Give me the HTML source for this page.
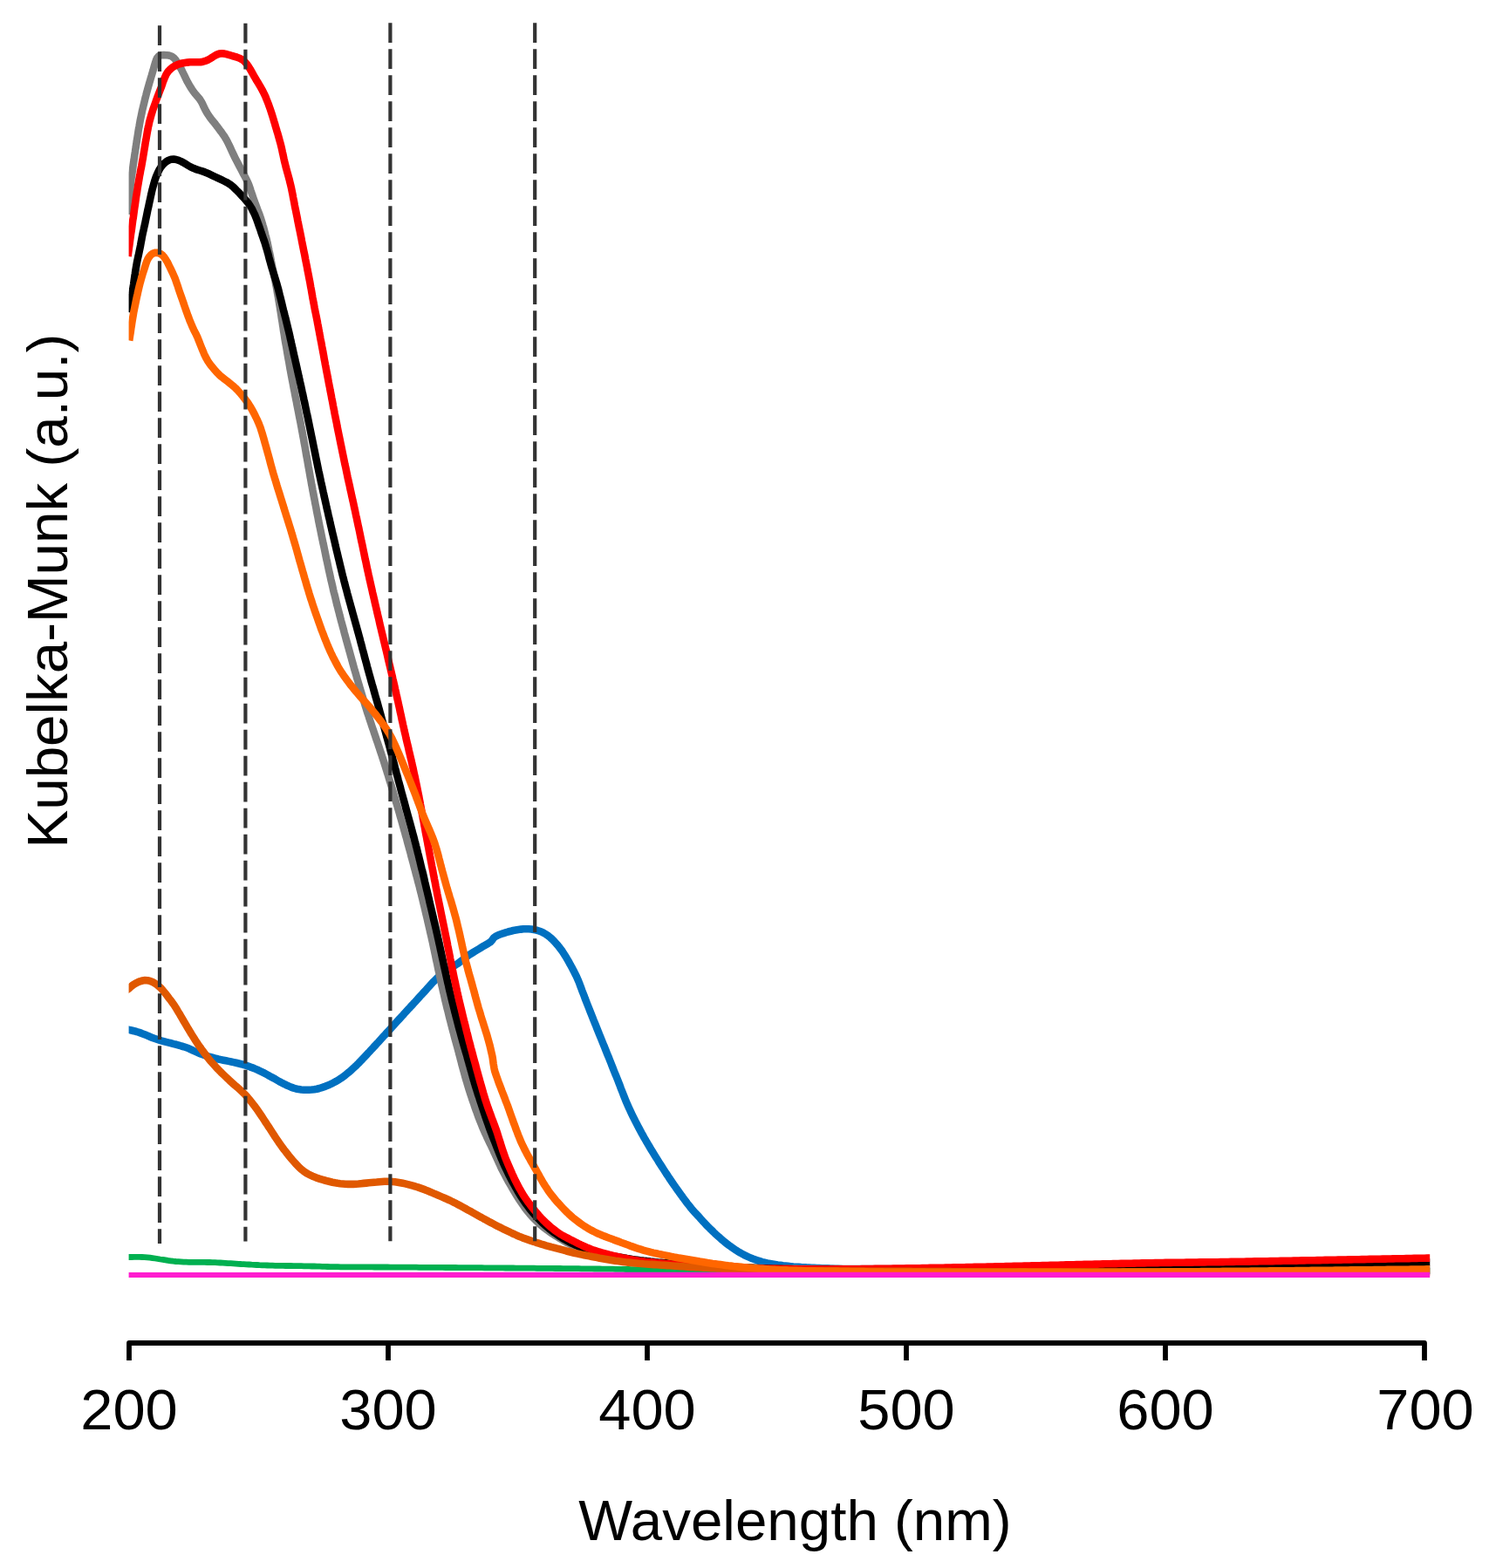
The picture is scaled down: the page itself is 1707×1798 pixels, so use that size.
<!DOCTYPE html>
<html><head><meta charset="utf-8"><title>Kubelka-Munk spectra</title>
<style>
html,body{margin:0;padding:0;background:#fff;}
body{width:1707px;height:1798px;overflow:hidden;position:relative;}
svg{position:absolute;left:0;top:0;}
.tk{font-family:"Liberation Sans",Arial,Helvetica,sans-serif;font-size:64.8px;fill:#000;}
.ax{font-family:"Liberation Sans",Arial,Helvetica,sans-serif;font-size:65.5px;fill:#000;}
</style></head>
<body>
<svg width="1707" height="1798" viewBox="0 0 1707 1798" xmlns="http://www.w3.org/2000/svg">
<rect width="1707" height="1798" fill="#fff"/>
<defs><clipPath id="pa"><rect x="147.6" y="0" width="1491.6" height="1500"/></clipPath></defs>
<g clip-path="url(#pa)">
<path d="M142.1,1179.3 L147.9,1180.8 L150.8,1181.5 L153.7,1182.2 L156.6,1183.0 L159.5,1183.9 L162.3,1184.9 L165.1,1186.0 L167.9,1187.1 L170.7,1188.3 L173.4,1189.4 L176.2,1190.5 L179.1,1191.5 L181.9,1192.4 L184.8,1193.3 L187.7,1194.1 L190.6,1194.9 L193.5,1195.6 L196.4,1196.3 L199.3,1197.1 L202.2,1197.8 L205.1,1198.6 L208.0,1199.5 L210.8,1200.3 L213.7,1201.3 L216.5,1202.3 L219.2,1203.6 L221.9,1204.9 L224.7,1206.1 L227.4,1207.3 L230.2,1208.5 L233.0,1209.5 L235.8,1210.5 L238.7,1211.4 L241.6,1212.2 L244.5,1213.0 L247.4,1213.8 L250.3,1214.5 L253.2,1215.1 L256.1,1215.7 L259.1,1216.3 L262.0,1216.9 L265.0,1217.5 L267.9,1218.1 L270.8,1218.8 L273.8,1219.5 L276.7,1220.2 L279.6,1221.0 L282.4,1221.9 L285.3,1222.8 L288.1,1223.9 L290.9,1224.9 L293.7,1226.1 L296.4,1227.3 L299.1,1228.6 L301.8,1229.9 L304.4,1231.3 L307.1,1232.7 L309.7,1234.2 L312.3,1235.6 L315.0,1237.1 L317.6,1238.6 L320.2,1240.1 L322.8,1241.5 L325.5,1242.9 L328.2,1244.2 L330.9,1245.4 L333.7,1246.6 L336.5,1247.6 L339.4,1248.5 L342.3,1249.1 L345.3,1249.5 L348.3,1249.7 L351.3,1249.8 L354.3,1249.7 L357.3,1249.5 L360.2,1249.2 L363.2,1248.7 L366.1,1248.0 L369.0,1247.1 L371.8,1246.2 L374.6,1245.1 L377.4,1244.0 L380.1,1242.7 L382.8,1241.3 L385.4,1239.9 L388.0,1238.3 L390.5,1236.7 L393.0,1234.9 L395.4,1233.2 L397.7,1231.3 L400.0,1229.4 L402.3,1227.4 L404.5,1225.4 L406.7,1223.4 L408.9,1221.3 L411.0,1219.2 L413.1,1217.0 L415.2,1214.9 L417.2,1212.7 L419.3,1210.5 L421.3,1208.3 L423.4,1206.1 L425.4,1203.9 L427.5,1201.7 L429.5,1199.5 L431.5,1197.3 L433.6,1195.1 L435.6,1192.9 L437.6,1190.7 L439.6,1188.4 L441.7,1186.2 L443.7,1184.0 L445.7,1181.8 L447.7,1179.6 L449.7,1177.4 L451.8,1175.1 L453.8,1172.9 L455.8,1170.7 L457.8,1168.5 L459.8,1166.3 L461.9,1164.1 L463.9,1161.8 L465.9,1159.6 L467.9,1157.4 L470.0,1155.2 L472.0,1153.0 L474.0,1150.8 L476.1,1148.6 L478.1,1146.4 L480.1,1144.1 L482.1,1141.9 L484.2,1139.7 L486.2,1137.5 L488.2,1135.3 L490.2,1133.0 L492.2,1130.8 L494.2,1128.6 L496.2,1126.4 L498.4,1124.3 L500.5,1122.2 L502.7,1120.1 L504.9,1118.1 L507.2,1116.1 L509.5,1114.2 L511.9,1112.4 L514.4,1110.8 L517.0,1109.4 L519.7,1108.0 L522.3,1106.5 L524.8,1104.9 L527.3,1103.1 L529.7,1101.3 L532.0,1099.4 L534.3,1097.5 L536.7,1095.7 L539.2,1094.1 L541.8,1092.5 L544.4,1090.9 L546.9,1089.4 L549.5,1087.8 L552.0,1086.3 L554.6,1084.7 L557.2,1083.2 L559.8,1081.7 L562.3,1080.1 L564.3,1077.9 L566.0,1075.4 L568.4,1073.6 L571.1,1072.3 L573.9,1071.3 L576.7,1070.3 L579.6,1069.4 L582.5,1068.5 L585.4,1067.8 L588.3,1067.0 L591.2,1066.5 L594.2,1066.0 L597.2,1065.6 L600.1,1065.3 L603.1,1065.2 L606.1,1065.3 L609.1,1065.5 L612.1,1066.0 L615.0,1066.6 L617.9,1067.5 L620.7,1068.5 L623.4,1069.9 L626.0,1071.4 L628.4,1073.1 L630.8,1075.0 L633.0,1077.0 L635.1,1079.1 L637.1,1081.3 L639.1,1083.6 L641.0,1085.9 L642.8,1088.3 L644.6,1090.7 L646.2,1093.2 L647.8,1095.8 L649.4,1098.3 L650.9,1100.9 L652.4,1103.5 L653.8,1106.2 L655.3,1108.8 L656.7,1111.5 L658.1,1114.1 L659.4,1116.8 L660.8,1119.5 L662.0,1122.2 L663.2,1125.0 L664.3,1127.8 L665.3,1130.6 L666.4,1133.4 L667.4,1136.2 L668.5,1139.0 L669.6,1141.8 L670.6,1144.6 L671.7,1147.4 L672.8,1150.2 L673.9,1153.0 L675.0,1155.8 L676.1,1158.6 L677.2,1161.4 L678.3,1164.1 L679.4,1166.9 L680.5,1169.7 L681.6,1172.5 L682.8,1175.3 L683.9,1178.1 L685.0,1180.9 L686.1,1183.6 L687.2,1186.4 L688.4,1189.2 L689.5,1192.0 L690.6,1194.8 L691.7,1197.5 L692.9,1200.3 L694.0,1203.1 L695.1,1205.9 L696.2,1208.7 L697.4,1211.4 L698.5,1214.2 L699.6,1217.0 L700.7,1219.8 L701.8,1222.6 L702.9,1225.4 L704.0,1228.2 L705.1,1231.0 L706.3,1233.7 L707.4,1236.5 L708.5,1239.3 L709.6,1242.1 L710.7,1244.9 L711.7,1247.7 L712.8,1250.5 L713.9,1253.3 L715.0,1256.1 L716.1,1258.9 L717.2,1261.7 L718.4,1264.4 L719.6,1267.2 L720.8,1269.9 L722.0,1272.6 L723.3,1275.4 L724.6,1278.1 L725.9,1280.8 L727.3,1283.5 L728.6,1286.1 L730.0,1288.8 L731.4,1291.5 L732.8,1294.1 L734.2,1296.8 L735.6,1299.4 L737.1,1302.0 L738.5,1304.6 L740.0,1307.2 L741.5,1309.8 L743.1,1312.4 L744.6,1315.0 L746.1,1317.6 L747.7,1320.1 L749.3,1322.7 L750.8,1325.2 L752.4,1327.8 L754.0,1330.3 L755.6,1332.9 L757.2,1335.4 L758.8,1337.9 L760.5,1340.5 L762.1,1343.0 L763.7,1345.5 L765.4,1348.0 L767.0,1350.5 L768.7,1353.0 L770.4,1355.5 L772.1,1357.9 L773.8,1360.4 L775.5,1362.9 L777.3,1365.3 L779.0,1367.7 L780.8,1370.2 L782.5,1372.6 L784.3,1375.0 L786.1,1377.4 L787.9,1379.8 L789.8,1382.2 L791.6,1384.5 L793.5,1386.9 L795.5,1389.1 L797.5,1391.3 L799.6,1393.5 L801.6,1395.7 L803.6,1398.0 L805.6,1400.2 L807.7,1402.4 L809.7,1404.6 L811.8,1406.7 L813.9,1408.8 L816.1,1410.9 L818.2,1413.0 L820.4,1415.1 L822.6,1417.1 L824.9,1419.1 L827.1,1421.1 L829.4,1423.0 L831.7,1424.9 L834.1,1426.8 L836.5,1428.6 L838.9,1430.3 L841.4,1432.0 L843.9,1433.7 L846.5,1435.3 L849.0,1436.8 L851.7,1438.2 L854.3,1439.6 L857.0,1440.9 L859.8,1442.1 L862.5,1443.3 L865.3,1444.3 L868.2,1445.3 L871.0,1446.2 L873.9,1447.1 L876.8,1447.8 L879.8,1448.4 L882.7,1448.9 L885.7,1449.4 L888.6,1449.9 L891.6,1450.4 L894.6,1450.8 L897.5,1451.3 L900.5,1451.6 L903.5,1451.9 L906.5,1452.2 L909.5,1452.5 L912.5,1452.7 L915.5,1452.9 L918.5,1453.1 L921.5,1453.2 L924.4,1453.4 L927.4,1453.5 L930.4,1453.7 L933.4,1453.8 L936.4,1454.0 L939.4,1454.1 L942.4,1454.2 L945.4,1454.3 L948.4,1454.4 L951.4,1454.6 L954.4,1454.7 L957.4,1455.0 L960.4,1455.1 L963.4,1455.2 L966.4,1455.2 L969.4,1455.3 L972.4,1455.3 L975.4,1455.3 L978.4,1455.4 L981.4,1455.4 L984.4,1455.4 L987.4,1455.4 L990.4,1455.4 L993.4,1455.5 L996.4,1455.5 L999.4,1455.5 L1002.4,1455.5 L1005.4,1455.5 L1008.4,1455.5 L1011.4,1455.6 L1014.4,1455.6 L1017.4,1455.6 L1020.4,1455.6 L1023.4,1455.6 L1026.4,1455.6 L1029.4,1455.6 L1032.4,1455.7 L1035.4,1455.7 L1038.4,1455.7 L1041.4,1455.7 L1044.4,1455.7 L1047.4,1455.7 L1050.4,1455.7 L1053.4,1455.7 L1056.4,1455.8 L1059.4,1455.8 L1062.4,1455.8 L1065.4,1455.8 L1068.4,1455.8 L1071.4,1455.8 L1074.4,1455.8 L1077.4,1455.8 L1080.4,1455.9 L1083.4,1455.9 L1086.4,1455.9 L1089.4,1455.9 L1092.4,1455.9 L1095.4,1455.9 L1098.4,1455.9 L1101.4,1455.9 L1104.4,1455.9 L1107.4,1455.9 L1110.4,1456.0 L1113.4,1456.0 L1116.4,1456.0 L1119.4,1456.0 L1122.4,1456.0 L1125.4,1456.0 L1128.4,1456.0 L1131.4,1456.0 L1134.4,1456.0 L1137.4,1456.0 L1140.4,1456.1 L1143.4,1456.1 L1146.4,1456.1 L1149.4,1456.1 L1152.4,1456.1 L1155.4,1456.1 L1158.4,1456.1 L1161.4,1456.1 L1164.4,1456.1 L1167.4,1456.1 L1170.4,1456.2 L1173.4,1456.2 L1176.4,1456.2 L1179.4,1456.2 L1182.4,1456.2 L1185.4,1456.2 L1188.4,1456.2 L1191.4,1456.2 L1194.4,1456.2 L1197.4,1456.2 L1200.4,1456.2 L1203.4,1456.2 L1206.4,1456.3 L1209.4,1456.3 L1212.4,1456.3 L1215.4,1456.3 L1218.4,1456.3 L1221.4,1456.3 L1224.4,1456.3 L1227.4,1456.3 L1230.4,1456.3 L1233.4,1456.3 L1236.4,1456.3 L1239.4,1456.3 L1242.4,1456.4 L1245.4,1456.4 L1248.4,1456.4 L1251.4,1456.4 L1254.4,1456.4 L1257.4,1456.4 L1260.4,1456.4 L1263.4,1456.4 L1266.4,1456.4 L1269.4,1456.4 L1272.4,1456.4 L1275.4,1456.4 L1278.4,1456.4 L1281.4,1456.5 L1284.4,1456.5 L1287.4,1456.5 L1290.4,1456.5 L1293.4,1456.5 L1296.4,1456.5 L1299.4,1456.5 L1302.4,1456.5 L1305.4,1456.5 L1308.4,1456.5 L1311.4,1456.5 L1314.4,1456.5 L1317.4,1456.5 L1320.4,1456.5 L1323.4,1456.6 L1326.4,1456.6 L1329.4,1456.6 L1332.4,1456.6 L1335.4,1456.6 L1338.4,1456.6 L1341.4,1456.6 L1344.4,1456.6 L1347.4,1456.6 L1350.4,1456.6 L1353.4,1456.6 L1356.4,1456.6 L1359.4,1456.6 L1362.4,1456.6 L1365.4,1456.6 L1368.4,1456.6 L1371.4,1456.6 L1374.4,1456.6 L1377.4,1456.7 L1380.4,1456.7 L1383.4,1456.7 L1386.4,1456.7 L1389.4,1456.7 L1392.4,1456.7 L1395.4,1456.7 L1398.4,1456.7 L1401.4,1456.7 L1404.4,1456.7 L1407.4,1456.7 L1410.4,1456.7 L1413.4,1456.7 L1416.4,1456.7 L1419.4,1456.7 L1422.4,1456.7 L1425.4,1456.7 L1428.4,1456.7 L1431.4,1456.7 L1434.4,1456.7 L1437.4,1456.7 L1440.4,1456.7 L1443.4,1456.8 L1446.4,1456.8 L1449.4,1456.8 L1452.4,1456.8 L1455.4,1456.8 L1458.4,1456.8 L1461.4,1456.8 L1464.4,1456.8 L1467.4,1456.8 L1470.4,1456.8 L1473.4,1456.8 L1476.4,1456.8 L1479.4,1456.8 L1482.4,1456.8 L1485.4,1456.8 L1488.4,1456.8 L1491.4,1456.8 L1494.4,1456.8 L1497.4,1456.8 L1500.4,1456.8 L1503.4,1456.8 L1506.4,1456.8 L1509.4,1456.8 L1512.4,1456.8 L1515.4,1456.8 L1518.4,1456.8 L1521.4,1456.8 L1524.4,1456.9 L1527.4,1456.9 L1530.4,1456.9 L1533.4,1456.9 L1536.4,1456.9 L1539.4,1456.9 L1542.4,1456.9 L1545.4,1456.9 L1548.4,1456.9 L1551.4,1456.9 L1554.4,1456.9 L1557.4,1456.9 L1560.4,1456.9 L1563.4,1456.9 L1566.4,1456.9 L1569.4,1456.9 L1572.4,1456.9 L1575.4,1456.9 L1578.4,1456.9 L1581.4,1456.9 L1584.4,1456.9 L1587.4,1456.9 L1590.4,1456.9 L1593.4,1456.9 L1596.4,1456.9 L1599.4,1456.9 L1602.4,1457.0 L1605.4,1457.0 L1608.4,1457.0 L1611.4,1457.0 L1614.4,1457.0 L1617.4,1457.0 L1620.4,1457.0 L1623.4,1457.0 L1626.4,1457.0 L1629.4,1457.0 L1632.4,1457.0 L1635.4,1457.0 L1638.0,1457.0 L1644.0,1457.0" fill="none" stroke="#0070c0" stroke-width="8.6" stroke-linejoin="round" stroke-linecap="butt"/>
<path d="M141.9,1441.5 L147.9,1441.5 L150.9,1441.5 L153.9,1441.4 L156.9,1441.4 L159.9,1441.4 L162.9,1441.5 L165.9,1441.6 L168.9,1441.9 L171.9,1442.2 L174.8,1442.6 L177.8,1443.0 L180.8,1443.5 L183.7,1444.0 L186.7,1444.4 L189.7,1444.9 L192.6,1445.4 L195.6,1445.8 L198.6,1446.2 L201.6,1446.5 L204.5,1446.7 L207.5,1446.9 L210.5,1447.1 L213.5,1447.2 L216.5,1447.3 L219.5,1447.3 L222.5,1447.3 L225.5,1447.4 L228.5,1447.4 L231.5,1447.4 L234.5,1447.4 L237.5,1447.5 L240.5,1447.5 L243.5,1447.6 L246.5,1447.7 L249.5,1447.8 L252.5,1448.0 L255.5,1448.2 L258.5,1448.4 L261.5,1448.6 L264.5,1448.7 L267.5,1448.9 L270.5,1449.1 L273.5,1449.3 L276.5,1449.5 L279.5,1449.6 L282.5,1449.8 L285.5,1450.0 L288.5,1450.2 L291.4,1450.3 L294.4,1450.5 L297.4,1450.7 L300.4,1450.8 L303.4,1450.9 L306.4,1451.0 L309.4,1451.1 L312.4,1451.2 L315.4,1451.3 L318.4,1451.3 L321.4,1451.4 L324.4,1451.4 L327.4,1451.5 L330.4,1451.5 L333.4,1451.5 L336.4,1451.6 L339.4,1451.6 L342.4,1451.7 L345.4,1451.7 L348.4,1451.8 L351.4,1451.8 L354.4,1451.9 L357.4,1452.0 L360.4,1452.0 L363.4,1452.1 L366.4,1452.2 L369.4,1452.3 L372.4,1452.4 L375.4,1452.5 L378.4,1452.6 L381.4,1452.6 L384.4,1452.7 L387.4,1452.7 L390.4,1452.8 L393.4,1452.8 L396.4,1452.8 L399.4,1452.8 L402.4,1452.8 L405.4,1452.9 L408.4,1452.9 L411.4,1452.9 L414.4,1452.9 L417.4,1452.9 L420.4,1452.9 L423.4,1452.9 L426.4,1452.9 L429.4,1453.0 L432.4,1453.0 L435.4,1453.0 L438.4,1453.0 L441.4,1453.0 L444.4,1453.0 L447.4,1453.1 L450.4,1453.1 L453.4,1453.1 L456.4,1453.1 L459.4,1453.1 L462.4,1453.2 L465.4,1453.2 L468.4,1453.2 L471.4,1453.2 L474.4,1453.2 L477.4,1453.2 L480.4,1453.3 L483.4,1453.3 L486.4,1453.3 L489.4,1453.3 L492.4,1453.3 L495.4,1453.4 L498.4,1453.4 L501.4,1453.4 L504.4,1453.4 L507.4,1453.4 L510.4,1453.5 L513.4,1453.5 L516.4,1453.5 L519.4,1453.5 L522.4,1453.5 L525.4,1453.6 L528.4,1453.6 L531.4,1453.6 L534.4,1453.6 L537.4,1453.6 L540.4,1453.7 L543.4,1453.7 L546.4,1453.7 L549.4,1453.7 L552.4,1453.7 L555.4,1453.8 L558.4,1453.8 L561.4,1453.8 L564.4,1453.8 L567.4,1453.9 L570.4,1453.9 L573.4,1453.9 L576.4,1453.9 L579.4,1454.0 L582.4,1454.0 L585.4,1454.0 L588.4,1454.0 L591.4,1454.1 L594.4,1454.1 L597.4,1454.1 L600.4,1454.1 L603.4,1454.2 L606.4,1454.2 L609.4,1454.2 L612.4,1454.2 L615.4,1454.3 L618.4,1454.3 L621.4,1454.3 L624.4,1454.4 L627.4,1454.4 L630.4,1454.4 L633.4,1454.4 L636.4,1454.5 L639.4,1454.5 L642.4,1454.5 L645.4,1454.6 L648.4,1454.6 L651.4,1454.6 L654.4,1454.6 L657.4,1454.7 L660.4,1454.7 L663.4,1454.7 L666.4,1454.8 L669.4,1454.8 L672.4,1454.9 L675.4,1454.9 L678.4,1454.9 L681.4,1455.0 L684.4,1455.0 L687.4,1455.0 L690.4,1455.1 L693.4,1455.1 L696.4,1455.2 L699.4,1455.2 L702.4,1455.2 L705.4,1455.3 L708.4,1455.3 L711.4,1455.4 L714.4,1455.4 L717.4,1455.5 L720.4,1455.5 L723.4,1455.6 L726.4,1455.6 L729.4,1455.6 L732.4,1455.7 L735.4,1455.7 L738.4,1455.7 L741.4,1455.8 L744.4,1455.8 L747.4,1455.8 L750.4,1455.9 L753.4,1455.9 L756.4,1455.9 L759.4,1455.9 L762.4,1455.9 L765.4,1456.0 L768.4,1456.0 L771.4,1456.0 L774.4,1456.0 L777.4,1456.0 L780.4,1456.1 L783.4,1456.1 L786.4,1456.1 L789.4,1456.1 L792.4,1456.1 L795.4,1456.2 L798.4,1456.2 L801.4,1456.2 L804.4,1456.2 L807.4,1456.2 L810.4,1456.3 L813.4,1456.3 L816.4,1456.3 L819.4,1456.3 L822.4,1456.3 L825.4,1456.4 L828.4,1456.4 L831.4,1456.4 L834.4,1456.4 L837.4,1456.4 L840.4,1456.5 L843.4,1456.5 L846.4,1456.5 L849.4,1456.5 L852.4,1456.5 L855.4,1456.5 L858.4,1456.6 L861.4,1456.6 L864.4,1456.6 L867.4,1456.6 L870.4,1456.6 L873.4,1456.6 L876.4,1456.6 L879.4,1456.7 L882.4,1456.7 L885.4,1456.7 L888.4,1456.7 L891.4,1456.7 L894.4,1456.7 L897.4,1456.7 L900.4,1456.7 L903.4,1456.8 L906.4,1456.8 L909.4,1456.8 L912.4,1456.8 L915.4,1456.8 L918.4,1456.8 L921.4,1456.8 L924.4,1456.8 L927.4,1456.8 L930.4,1456.8 L933.4,1456.9 L936.4,1456.9 L939.4,1456.9 L942.4,1456.9 L945.4,1456.9 L948.4,1456.9 L951.4,1456.9 L954.4,1456.9 L957.4,1456.9 L960.4,1456.9 L963.4,1456.9 L966.4,1456.9 L969.4,1456.9 L972.4,1456.9 L975.4,1457.0 L978.4,1457.0 L981.4,1457.0 L984.4,1457.0 L987.4,1457.0 L990.4,1457.0 L993.4,1457.0 L996.4,1457.0 L999.4,1457.0 L1002.4,1457.0 L1005.4,1457.0 L1008.4,1457.0 L1011.4,1457.0 L1014.4,1457.0 L1017.4,1457.0 L1020.4,1457.0 L1023.4,1457.0 L1026.4,1457.0 L1029.4,1457.0 L1032.4,1457.1 L1035.4,1457.1 L1038.4,1457.1 L1041.4,1457.1 L1044.4,1457.1 L1047.4,1457.1 L1050.4,1457.1 L1053.4,1457.1 L1056.4,1457.1 L1059.4,1457.1 L1062.4,1457.1 L1065.4,1457.1 L1068.4,1457.1 L1071.4,1457.1 L1074.4,1457.1 L1077.4,1457.1 L1080.4,1457.1 L1083.4,1457.1 L1086.4,1457.1 L1089.4,1457.1 L1092.4,1457.1 L1095.4,1457.1 L1098.4,1457.1 L1101.4,1457.1 L1104.4,1457.1 L1107.4,1457.1 L1110.4,1457.1 L1113.4,1457.1 L1116.4,1457.1 L1119.4,1457.1 L1122.4,1457.2 L1125.4,1457.2 L1128.4,1457.2 L1131.4,1457.2 L1134.4,1457.2 L1137.4,1457.2 L1140.4,1457.2 L1143.4,1457.2 L1146.4,1457.2 L1149.4,1457.2 L1152.4,1457.2 L1155.4,1457.2 L1158.4,1457.2 L1161.4,1457.2 L1164.4,1457.2 L1167.4,1457.2 L1170.4,1457.2 L1173.4,1457.2 L1176.4,1457.2 L1179.4,1457.2 L1182.4,1457.2 L1185.4,1457.2 L1188.4,1457.2 L1191.4,1457.2 L1194.4,1457.2 L1197.4,1457.2 L1200.4,1457.2 L1203.4,1457.2 L1206.4,1457.2 L1209.4,1457.2 L1212.4,1457.2 L1215.4,1457.2 L1218.4,1457.2 L1221.4,1457.2 L1224.4,1457.2 L1227.4,1457.2 L1230.4,1457.2 L1233.4,1457.2 L1236.4,1457.2 L1239.4,1457.2 L1242.4,1457.2 L1245.4,1457.2 L1248.4,1457.3 L1251.4,1457.3 L1254.4,1457.3 L1257.4,1457.3 L1260.4,1457.3 L1263.4,1457.3 L1266.4,1457.3 L1269.4,1457.3 L1272.4,1457.3 L1275.4,1457.3 L1278.4,1457.3 L1281.4,1457.3 L1284.4,1457.3 L1287.4,1457.3 L1290.4,1457.3 L1293.4,1457.3 L1296.4,1457.3 L1299.4,1457.3 L1302.4,1457.3 L1305.4,1457.3 L1308.4,1457.3 L1311.4,1457.3 L1314.4,1457.3 L1317.4,1457.3 L1320.4,1457.3 L1323.4,1457.3 L1326.4,1457.3 L1329.4,1457.3 L1332.4,1457.3 L1335.4,1457.3 L1338.4,1457.3 L1341.4,1457.3 L1344.4,1457.3 L1347.4,1457.3 L1350.4,1457.3 L1353.4,1457.3 L1356.4,1457.3 L1359.4,1457.3 L1362.4,1457.3 L1365.4,1457.3 L1368.4,1457.3 L1371.4,1457.3 L1374.4,1457.3 L1377.4,1457.3 L1380.4,1457.3 L1383.4,1457.3 L1386.4,1457.3 L1389.4,1457.3 L1392.4,1457.3 L1395.4,1457.3 L1398.4,1457.3 L1401.4,1457.3 L1404.4,1457.3 L1407.4,1457.4 L1410.4,1457.4 L1413.4,1457.4 L1416.4,1457.4 L1419.4,1457.4 L1422.4,1457.4 L1425.4,1457.4 L1428.4,1457.4 L1431.4,1457.4 L1434.4,1457.4 L1437.4,1457.4 L1440.4,1457.4 L1443.4,1457.4 L1446.4,1457.4 L1449.4,1457.4 L1452.4,1457.4 L1455.4,1457.4 L1458.4,1457.4 L1461.4,1457.4 L1464.4,1457.4 L1467.4,1457.4 L1470.4,1457.4 L1473.4,1457.4 L1476.4,1457.4 L1479.4,1457.4 L1482.4,1457.4 L1485.4,1457.4 L1488.4,1457.4 L1491.4,1457.4 L1494.4,1457.4 L1497.4,1457.4 L1500.4,1457.4 L1503.4,1457.4 L1506.4,1457.4 L1509.4,1457.4 L1512.4,1457.4 L1515.4,1457.4 L1518.4,1457.4 L1521.4,1457.4 L1524.4,1457.4 L1527.4,1457.4 L1530.4,1457.4 L1533.4,1457.4 L1536.4,1457.4 L1539.4,1457.4 L1542.4,1457.4 L1545.4,1457.4 L1548.4,1457.4 L1551.4,1457.4 L1554.4,1457.4 L1557.4,1457.4 L1560.4,1457.4 L1563.4,1457.4 L1566.4,1457.4 L1569.4,1457.5 L1572.4,1457.5 L1575.4,1457.5 L1578.4,1457.5 L1581.4,1457.5 L1584.4,1457.5 L1587.4,1457.5 L1590.4,1457.5 L1593.4,1457.5 L1596.4,1457.5 L1599.4,1457.5 L1602.4,1457.5 L1605.4,1457.5 L1608.4,1457.5 L1611.4,1457.5 L1614.4,1457.5 L1617.4,1457.5 L1620.4,1457.5 L1623.4,1457.5 L1626.4,1457.5 L1629.4,1457.5 L1632.4,1457.5 L1635.4,1457.5 L1638.0,1457.5 L1644.0,1457.5" fill="none" stroke="#00b050" stroke-width="6.8" stroke-linejoin="round" stroke-linecap="butt"/>
<path d="M147.4,246.0 L147.8,240.0 L148.0,237.0 L148.2,234.0 L148.3,231.0 L148.5,228.0 L148.7,225.0 L148.9,222.0 L149.1,219.0 L149.3,216.0 L149.6,213.1 L149.9,210.1 L150.2,207.1 L150.6,204.1 L151.0,201.2 L151.5,198.2 L151.9,195.2 L152.3,192.2 L152.7,189.3 L153.1,186.3 L153.6,183.3 L154.0,180.4 L154.4,177.4 L154.9,174.4 L155.3,171.5 L155.8,168.5 L156.2,165.5 L156.7,162.6 L157.1,159.6 L157.6,156.6 L158.1,153.7 L158.5,150.7 L159.0,147.7 L159.6,144.8 L160.1,141.8 L160.6,138.9 L161.2,135.9 L161.8,133.0 L162.4,130.1 L163.0,127.1 L163.7,124.2 L164.4,121.3 L165.1,118.4 L165.8,115.5 L166.5,112.5 L167.3,109.6 L168.0,106.7 L168.8,103.8 L169.6,100.9 L170.4,98.1 L171.2,95.2 L172.1,92.3 L172.9,89.4 L173.8,86.5 L174.6,83.7 L175.5,80.8 L176.3,77.9 L177.1,75.0 L178.0,72.1 L178.9,69.3 L180.1,66.5 L182.0,64.3 L184.8,63.3 L187.8,63.1 L190.8,63.2 L193.8,63.6 L196.7,64.5 L199.1,66.2 L201.1,68.4 L202.7,70.9 L204.3,73.5 L205.8,76.1 L207.4,78.6 L208.8,81.3 L210.1,84.0 L211.4,86.7 L212.7,89.4 L214.0,92.1 L215.4,94.7 L216.9,97.3 L218.4,99.9 L220.0,102.4 L221.7,104.9 L223.6,107.3 L225.5,109.6 L227.5,111.8 L229.3,114.2 L230.9,116.8 L232.3,119.4 L233.5,122.2 L234.8,124.9 L236.2,127.5 L237.7,130.1 L239.4,132.6 L241.1,135.1 L242.9,137.5 L244.8,139.8 L246.7,142.1 L248.5,144.5 L250.4,146.9 L252.1,149.3 L253.9,151.7 L255.6,154.2 L257.3,156.6 L258.9,159.2 L260.4,161.8 L261.7,164.5 L263.0,167.2 L264.3,169.9 L265.5,172.6 L266.8,175.3 L268.1,178.1 L269.4,180.8 L270.7,183.4 L272.1,186.1 L273.5,188.8 L274.9,191.4 L276.3,194.1 L277.7,196.7 L279.1,199.4 L280.5,202.0 L281.9,204.7 L283.2,207.4 L284.5,210.1 L285.6,212.9 L286.6,215.7 L287.5,218.6 L288.5,221.4 L289.4,224.3 L290.4,227.1 L291.4,229.9 L292.4,232.7 L293.5,235.6 L294.5,238.4 L295.6,241.2 L296.7,244.0 L297.7,246.8 L298.7,249.6 L299.6,252.5 L300.5,255.3 L301.3,258.2 L302.2,261.1 L302.9,264.0 L303.7,266.9 L304.4,269.8 L305.2,272.7 L305.9,275.6 L306.5,278.6 L307.2,281.5 L307.8,284.4 L308.4,287.4 L309.1,290.3 L309.7,293.2 L310.3,296.2 L310.8,299.1 L311.4,302.1 L312.0,305.0 L312.6,307.9 L313.2,310.9 L313.8,313.8 L314.4,316.8 L315.0,319.7 L315.6,322.6 L316.1,325.6 L316.7,328.5 L317.3,331.5 L317.8,334.4 L318.3,337.4 L318.9,340.3 L319.4,343.3 L319.9,346.3 L320.4,349.2 L320.9,352.2 L321.3,355.1 L321.8,358.1 L322.3,361.1 L322.7,364.0 L323.2,367.0 L323.7,370.0 L324.1,372.9 L324.6,375.9 L325.0,378.9 L325.5,381.8 L326.0,384.8 L326.4,387.7 L326.9,390.7 L327.4,393.7 L328.0,396.6 L328.5,399.6 L329.0,402.5 L329.5,405.5 L330.0,408.4 L330.5,411.4 L331.1,414.3 L331.6,417.3 L332.1,420.2 L332.6,423.2 L333.2,426.2 L333.7,429.1 L334.3,432.1 L334.8,435.0 L335.4,437.9 L336.0,440.9 L336.5,443.8 L337.1,446.8 L337.7,449.7 L338.2,452.7 L338.8,455.6 L339.4,458.6 L340.0,461.5 L340.5,464.5 L341.1,467.4 L341.7,470.3 L342.3,473.3 L342.8,476.2 L343.4,479.2 L344.0,482.1 L344.6,485.1 L345.1,488.0 L345.7,491.0 L346.2,493.9 L346.8,496.9 L347.3,499.8 L347.9,502.8 L348.4,505.7 L348.9,508.7 L349.5,511.6 L350.0,514.6 L350.5,517.5 L351.0,520.5 L351.5,523.4 L352.1,526.4 L352.6,529.3 L353.1,532.3 L353.6,535.3 L354.2,538.2 L354.7,541.2 L355.2,544.1 L355.7,547.1 L356.3,550.0 L356.8,553.0 L357.3,555.9 L357.9,558.9 L358.4,561.8 L359.0,564.8 L359.5,567.7 L360.1,570.7 L360.7,573.6 L361.2,576.6 L361.8,579.5 L362.4,582.4 L362.9,585.4 L363.5,588.3 L364.1,591.3 L364.7,594.2 L365.2,597.2 L365.8,600.1 L366.4,603.1 L367.0,606.0 L367.6,608.9 L368.2,611.9 L368.8,614.8 L369.4,617.8 L370.0,620.7 L370.6,623.6 L371.3,626.6 L371.9,629.5 L372.5,632.4 L373.1,635.4 L373.7,638.3 L374.3,641.2 L375.0,644.2 L375.6,647.1 L376.2,650.0 L376.8,653.0 L377.5,655.9 L378.1,658.8 L378.8,661.8 L379.4,664.7 L380.1,667.6 L380.8,670.5 L381.5,673.5 L382.1,676.4 L382.8,679.3 L383.6,682.2 L384.3,685.1 L385.0,688.0 L385.7,691.0 L386.4,693.9 L387.2,696.8 L387.9,699.7 L388.7,702.6 L389.4,705.5 L390.2,708.4 L390.9,711.3 L391.7,714.2 L392.5,717.1 L393.3,720.0 L394.1,722.9 L394.8,725.8 L395.6,728.7 L396.4,731.6 L397.2,734.5 L398.0,737.4 L398.8,740.2 L399.6,743.1 L400.4,746.0 L401.2,748.9 L402.0,751.8 L402.8,754.7 L403.6,757.6 L404.4,760.5 L405.2,763.4 L406.0,766.3 L406.8,769.1 L407.7,772.0 L408.5,774.9 L409.3,777.8 L410.2,780.7 L411.0,783.6 L411.9,786.4 L412.7,789.3 L413.6,792.2 L414.4,795.1 L415.3,797.9 L416.2,800.8 L417.0,803.7 L417.9,806.5 L418.8,809.4 L419.7,812.3 L420.6,815.1 L421.5,818.0 L422.5,820.8 L423.4,823.7 L424.3,826.5 L425.3,829.4 L426.2,832.2 L427.2,835.1 L428.2,837.9 L429.1,840.8 L430.1,843.6 L431.0,846.4 L432.0,849.3 L433.0,852.1 L433.9,855.0 L434.9,857.8 L435.8,860.6 L436.8,863.5 L437.7,866.3 L438.6,869.2 L439.6,872.1 L440.5,874.9 L441.4,877.8 L442.3,880.6 L443.2,883.5 L444.1,886.4 L445.0,889.2 L445.8,892.1 L446.7,895.0 L447.6,897.8 L448.5,900.7 L449.3,903.6 L450.2,906.4 L451.1,909.3 L451.9,912.2 L452.8,915.1 L453.6,918.0 L454.4,920.8 L455.3,923.7 L456.1,926.6 L457.0,929.5 L457.8,932.4 L458.6,935.2 L459.4,938.1 L460.3,941.0 L461.1,943.9 L461.9,946.8 L462.7,949.7 L463.5,952.6 L464.3,955.4 L465.1,958.3 L466.0,961.2 L466.7,964.1 L467.5,967.0 L468.3,969.9 L469.1,972.8 L469.9,975.7 L470.7,978.6 L471.4,981.5 L472.2,984.4 L473.0,987.3 L473.8,990.2 L474.5,993.1 L475.3,996.0 L476.1,998.9 L476.8,1001.8 L477.6,1004.7 L478.4,1007.6 L479.1,1010.5 L479.9,1013.4 L480.7,1016.3 L481.4,1019.2 L482.1,1022.1 L482.9,1025.0 L483.6,1027.9 L484.3,1030.8 L485.0,1033.8 L485.7,1036.7 L486.4,1039.6 L487.1,1042.5 L487.8,1045.4 L488.5,1048.4 L489.2,1051.3 L489.9,1054.2 L490.5,1057.1 L491.2,1060.0 L491.9,1063.0 L492.6,1065.9 L493.2,1068.8 L493.9,1071.7 L494.6,1074.7 L495.2,1077.6 L495.9,1080.5 L496.5,1083.4 L497.1,1086.4 L497.8,1089.3 L498.4,1092.3 L499.0,1095.2 L499.6,1098.1 L500.2,1101.1 L500.9,1104.0 L501.5,1106.9 L502.1,1109.9 L502.7,1112.8 L503.4,1115.7 L504.0,1118.7 L504.7,1121.6 L505.3,1124.5 L505.9,1127.4 L506.6,1130.4 L507.3,1133.3 L507.9,1136.2 L508.6,1139.1 L509.3,1142.1 L509.9,1145.0 L510.6,1147.9 L511.3,1150.8 L512.0,1153.8 L512.7,1156.7 L513.5,1159.6 L514.2,1162.5 L514.9,1165.4 L515.6,1168.3 L516.4,1171.2 L517.1,1174.1 L517.9,1177.0 L518.6,1179.9 L519.4,1182.8 L520.2,1185.7 L520.9,1188.6 L521.7,1191.5 L522.5,1194.4 L523.3,1197.3 L524.1,1200.2 L524.9,1203.1 L525.7,1206.0 L526.4,1208.9 L527.2,1211.8 L527.9,1214.7 L528.7,1217.6 L529.4,1220.5 L530.2,1223.4 L531.0,1226.3 L531.8,1229.2 L532.6,1232.1 L533.4,1235.0 L534.2,1237.9 L535.1,1240.7 L535.9,1243.6 L536.8,1246.5 L537.7,1249.4 L538.6,1252.2 L539.5,1255.1 L540.5,1257.9 L541.4,1260.8 L542.4,1263.6 L543.4,1266.4 L544.3,1269.3 L545.3,1272.1 L546.4,1274.9 L547.4,1277.7 L548.4,1280.6 L549.5,1283.4 L550.6,1286.2 L551.7,1288.9 L552.8,1291.7 L554.0,1294.5 L555.2,1297.2 L556.4,1300.0 L557.7,1302.7 L558.9,1305.4 L560.2,1308.1 L561.5,1310.8 L562.8,1313.5 L564.1,1316.3 L565.4,1319.0 L566.6,1321.7 L567.9,1324.4 L569.1,1327.1 L570.4,1329.9 L571.6,1332.6 L572.9,1335.3 L574.1,1338.1 L575.4,1340.8 L576.8,1343.4 L578.2,1346.1 L579.6,1348.8 L581.0,1351.4 L582.4,1354.0 L583.9,1356.6 L585.4,1359.2 L586.9,1361.8 L588.4,1364.4 L590.0,1367.0 L591.5,1369.6 L593.1,1372.1 L594.7,1374.7 L596.3,1377.2 L598.0,1379.7 L599.7,1382.1 L601.4,1384.6 L603.2,1387.0 L605.1,1389.3 L607.0,1391.6 L609.0,1393.9 L611.0,1396.1 L613.1,1398.2 L615.3,1400.4 L617.4,1402.4 L619.7,1404.4 L621.9,1406.4 L624.3,1408.2 L626.7,1410.1 L629.1,1411.8 L631.5,1413.6 L634.0,1415.2 L636.6,1416.9 L639.1,1418.4 L641.7,1420.0 L644.3,1421.5 L646.8,1423.1 L649.4,1424.6 L652.1,1426.0 L654.7,1427.3 L657.5,1428.6 L660.2,1429.8 L663.0,1430.9 L665.8,1432.0 L668.6,1433.0 L671.5,1433.9 L674.4,1434.8 L677.2,1435.6 L680.1,1436.4 L683.0,1437.2 L685.9,1437.9 L688.9,1438.6 L691.8,1439.3 L694.7,1439.9 L697.7,1440.5 L700.6,1441.1 L703.5,1441.7 L706.5,1442.2 L709.4,1442.8 L712.4,1443.3 L715.4,1443.8 L718.3,1444.2 L721.3,1444.7 L724.3,1445.2 L727.2,1445.6 L730.2,1446.0 L733.2,1446.4 L736.1,1446.8 L739.1,1447.2 L742.1,1447.6 L745.1,1448.0 L748.0,1448.3 L751.0,1448.6 L754.0,1448.9 L757.0,1449.2 L760.0,1449.5 L763.0,1449.7 L766.0,1450.0 L769.0,1450.2 L771.9,1450.4 L774.9,1450.6 L777.9,1450.8 L780.9,1451.0 L783.9,1451.2 L786.9,1451.4 L789.9,1451.5 L792.9,1451.7 L795.9,1451.8 L798.9,1451.9 L801.9,1452.1 L804.9,1452.2 L807.9,1452.3 L810.9,1452.4 L813.9,1452.5 L816.9,1452.6 L819.9,1452.7 L822.9,1452.8 L825.9,1452.9 L828.9,1453.0 L831.9,1453.0 L834.9,1453.1 L837.9,1453.2 L840.9,1453.3 L843.9,1453.3 L846.9,1453.4 L849.9,1453.5 L852.9,1453.6 L855.9,1453.7 L858.9,1453.7 L861.9,1453.8 L864.9,1453.9 L867.9,1454.0 L870.9,1454.0 L873.9,1454.1 L876.9,1454.2 L879.9,1454.2 L882.9,1454.3 L885.9,1454.3 L888.9,1454.4 L891.9,1454.4 L894.9,1454.4 L897.9,1454.5 L900.9,1454.5 L903.9,1454.5 L906.9,1454.6 L909.9,1454.6 L912.9,1454.6 L915.9,1454.7 L918.9,1454.7 L921.9,1454.7 L924.9,1454.7 L927.9,1454.8 L930.9,1454.8 L933.9,1454.8 L936.9,1454.8 L939.9,1454.8 L942.9,1454.9 L945.9,1454.9 L948.9,1454.9 L951.9,1454.9 L954.9,1454.9 L957.9,1454.9 L960.9,1454.9 L963.9,1454.9 L966.9,1455.0 L969.9,1455.0 L972.9,1455.0 L975.9,1455.0 L978.9,1455.0 L981.9,1455.0 L984.9,1455.0 L987.9,1455.0 L990.9,1455.0 L993.9,1455.0 L996.9,1455.0 L999.9,1455.0 L1002.9,1455.0 L1005.9,1455.0 L1008.9,1455.0 L1011.9,1455.0 L1014.9,1455.0 L1017.9,1455.0 L1020.9,1455.0 L1023.9,1455.0 L1026.9,1455.0 L1029.9,1455.0 L1032.9,1455.0 L1035.9,1455.0 L1038.9,1455.0 L1041.9,1455.0 L1044.9,1455.0 L1047.9,1455.0 L1050.9,1455.0 L1053.9,1455.0 L1056.9,1454.9 L1059.9,1454.9 L1062.9,1454.9 L1065.9,1454.9 L1068.9,1454.9 L1071.9,1454.9 L1074.9,1454.9 L1077.9,1454.9 L1080.9,1454.9 L1083.9,1454.9 L1086.9,1454.9 L1089.9,1454.9 L1092.9,1454.9 L1095.9,1454.9 L1098.9,1454.9 L1101.9,1454.9 L1104.9,1454.8 L1107.9,1454.8 L1110.9,1454.8 L1113.9,1454.8 L1116.9,1454.8 L1119.9,1454.8 L1122.9,1454.8 L1125.9,1454.8 L1128.9,1454.8 L1131.9,1454.8 L1134.9,1454.8 L1137.9,1454.8 L1140.9,1454.7 L1143.9,1454.7 L1146.9,1454.7 L1149.9,1454.7 L1152.9,1454.7 L1155.9,1454.7 L1158.9,1454.7 L1161.9,1454.7 L1164.9,1454.7 L1167.9,1454.6 L1170.9,1454.6 L1173.9,1454.6 L1176.9,1454.6 L1179.9,1454.6 L1182.9,1454.6 L1185.9,1454.6 L1188.9,1454.6 L1191.9,1454.5 L1194.9,1454.5 L1197.9,1454.5 L1200.9,1454.5 L1203.9,1454.5 L1206.9,1454.5 L1209.9,1454.4 L1212.9,1454.4 L1215.9,1454.4 L1218.9,1454.4 L1221.9,1454.4 L1224.9,1454.4 L1227.9,1454.3 L1230.9,1454.3 L1233.9,1454.3 L1236.9,1454.3 L1239.9,1454.3 L1242.9,1454.2 L1245.9,1454.2 L1248.9,1454.2 L1251.9,1454.2 L1254.9,1454.2 L1257.9,1454.1 L1260.9,1454.1 L1263.9,1454.1 L1266.9,1454.1 L1269.9,1454.1 L1272.9,1454.0 L1275.9,1454.0 L1278.9,1454.0 L1281.9,1454.0 L1284.9,1453.9 L1287.9,1453.9 L1290.9,1453.9 L1293.9,1453.9 L1296.9,1453.8 L1299.9,1453.8 L1302.9,1453.8 L1305.9,1453.8 L1308.9,1453.8 L1311.9,1453.7 L1314.9,1453.7 L1317.9,1453.7 L1320.9,1453.7 L1323.9,1453.6 L1326.9,1453.6 L1329.9,1453.6 L1332.9,1453.6 L1335.9,1453.5 L1338.9,1453.5 L1341.9,1453.5 L1344.9,1453.5 L1347.9,1453.4 L1350.9,1453.4 L1353.9,1453.4 L1356.9,1453.4 L1359.9,1453.3 L1362.9,1453.3 L1365.9,1453.3 L1368.9,1453.3 L1371.9,1453.2 L1374.9,1453.2 L1377.9,1453.2 L1380.9,1453.2 L1383.9,1453.1 L1386.9,1453.1 L1389.9,1453.1 L1392.9,1453.1 L1395.9,1453.0 L1398.9,1453.0 L1401.9,1453.0 L1404.9,1453.0 L1407.9,1452.9 L1410.9,1452.9 L1413.9,1452.9 L1416.9,1452.9 L1419.9,1452.8 L1422.9,1452.8 L1425.9,1452.8 L1428.9,1452.8 L1431.9,1452.7 L1434.9,1452.7 L1437.9,1452.7 L1440.9,1452.7 L1443.9,1452.6 L1446.9,1452.6 L1449.9,1452.6 L1452.9,1452.6 L1455.9,1452.5 L1458.9,1452.5 L1461.9,1452.5 L1464.9,1452.5 L1467.9,1452.4 L1470.9,1452.4 L1473.9,1452.4 L1476.9,1452.4 L1479.9,1452.3 L1482.9,1452.3 L1485.9,1452.3 L1488.9,1452.3 L1491.9,1452.2 L1494.9,1452.2 L1497.9,1452.2 L1500.9,1452.2 L1503.9,1452.1 L1506.9,1452.1 L1509.9,1452.1 L1512.9,1452.1 L1515.9,1452.0 L1518.9,1452.0 L1521.9,1452.0 L1524.9,1452.0 L1527.9,1451.9 L1530.9,1451.9 L1533.9,1451.9 L1536.9,1451.9 L1539.9,1451.8 L1542.9,1451.8 L1545.9,1451.8 L1548.9,1451.8 L1551.9,1451.7 L1554.9,1451.7 L1557.9,1451.7 L1560.9,1451.7 L1563.9,1451.6 L1566.9,1451.6 L1569.9,1451.6 L1572.9,1451.6 L1575.9,1451.5 L1578.9,1451.5 L1581.9,1451.5 L1584.9,1451.5 L1587.9,1451.4 L1590.9,1451.4 L1593.9,1451.4 L1596.9,1451.3 L1599.9,1451.3 L1602.9,1451.3 L1605.9,1451.3 L1608.9,1451.2 L1611.9,1451.2 L1614.9,1451.2 L1617.9,1451.2 L1620.9,1451.1 L1623.9,1451.1 L1626.9,1451.1 L1629.9,1451.1 L1632.9,1451.0 L1635.9,1451.0 L1638.0,1451.0 L1644.0,1450.9" fill="none" stroke="#7f7f7f" stroke-width="8.6" stroke-linejoin="round" stroke-linecap="butt"/>
<path d="M147.5,358.1 L148.6,352.2 L149.1,349.3 L149.6,346.3 L150.2,343.4 L150.7,340.4 L151.3,337.5 L151.8,334.5 L152.3,331.5 L152.7,328.6 L153.2,325.6 L153.6,322.6 L154.0,319.7 L154.4,316.7 L154.9,313.7 L155.3,310.8 L155.8,307.8 L156.3,304.8 L156.8,301.9 L157.4,298.9 L158.0,296.0 L158.7,293.1 L159.3,290.2 L159.9,287.2 L160.5,284.3 L161.1,281.3 L161.6,278.4 L162.2,275.4 L162.7,272.5 L163.3,269.5 L163.9,266.6 L164.6,263.7 L165.2,260.7 L165.9,257.8 L166.5,254.9 L167.1,251.9 L167.7,249.0 L168.3,246.1 L168.9,243.1 L169.5,240.2 L170.2,237.3 L170.8,234.3 L171.4,231.4 L172.1,228.5 L172.7,225.5 L173.4,222.6 L174.0,219.7 L174.7,216.8 L175.5,213.9 L176.3,211.0 L177.1,208.1 L178.0,205.2 L179.0,202.4 L180.2,199.6 L181.4,196.9 L182.8,194.2 L184.4,191.7 L186.2,189.3 L188.4,187.2 L190.7,185.3 L193.3,183.8 L196.1,182.8 L199.1,182.6 L202.0,183.0 L204.9,183.9 L207.7,185.1 L210.3,186.5 L212.9,188.0 L215.4,189.6 L218.0,191.1 L220.7,192.5 L223.5,193.6 L226.3,194.6 L229.2,195.5 L232.0,196.4 L234.9,197.4 L237.6,198.5 L240.4,199.7 L243.1,201.1 L245.8,202.4 L248.5,203.6 L251.2,204.9 L253.9,206.2 L256.6,207.5 L259.3,208.8 L261.9,210.3 L264.4,211.9 L266.8,213.8 L268.9,215.9 L271.0,218.0 L273.2,220.1 L275.3,222.3 L277.3,224.5 L279.3,226.7 L281.3,229.0 L283.2,231.3 L285.1,233.6 L286.8,236.1 L288.3,238.6 L289.7,241.3 L291.0,244.0 L292.3,246.7 L293.4,249.5 L294.5,252.3 L295.5,255.1 L296.5,258.0 L297.5,260.8 L298.5,263.6 L299.4,266.5 L300.4,269.3 L301.4,272.1 L302.4,275.0 L303.4,277.8 L304.3,280.7 L305.1,283.5 L306.0,286.4 L306.8,289.3 L307.6,292.2 L308.3,295.1 L309.1,298.0 L309.9,300.9 L310.7,303.8 L311.5,306.7 L312.4,309.5 L313.3,312.4 L314.2,315.3 L315.1,318.1 L316.0,321.0 L316.9,323.9 L317.7,326.7 L318.5,329.6 L319.3,332.5 L320.0,335.4 L320.7,338.3 L321.5,341.3 L322.2,344.2 L322.9,347.1 L323.6,350.0 L324.3,352.9 L325.0,355.8 L325.8,358.7 L326.5,361.6 L327.3,364.6 L328.0,367.5 L328.7,370.4 L329.4,373.3 L330.1,376.2 L330.8,379.1 L331.5,382.0 L332.2,385.0 L332.8,387.9 L333.5,390.8 L334.1,393.7 L334.8,396.7 L335.4,399.6 L336.1,402.5 L336.7,405.5 L337.4,408.4 L338.1,411.3 L338.7,414.2 L339.4,417.2 L340.0,420.1 L340.7,423.0 L341.3,426.0 L342.0,428.9 L342.6,431.8 L343.3,434.7 L343.9,437.7 L344.6,440.6 L345.2,443.5 L345.9,446.5 L346.5,449.4 L347.2,452.3 L347.8,455.3 L348.4,458.2 L349.1,461.1 L349.7,464.1 L350.3,467.0 L350.9,469.9 L351.5,472.9 L352.2,475.8 L352.8,478.7 L353.4,481.7 L354.0,484.6 L354.6,487.5 L355.2,490.5 L355.8,493.4 L356.4,496.4 L357.0,499.3 L357.6,502.2 L358.2,505.2 L358.8,508.1 L359.4,511.1 L360.0,514.0 L360.6,516.9 L361.2,519.9 L361.8,522.8 L362.4,525.8 L363.0,528.7 L363.6,531.6 L364.2,534.6 L364.8,537.5 L365.4,540.4 L366.1,543.4 L366.7,546.3 L367.3,549.2 L367.9,552.2 L368.6,555.1 L369.2,558.0 L369.9,561.0 L370.5,563.9 L371.2,566.8 L371.8,569.8 L372.5,572.7 L373.1,575.6 L373.8,578.5 L374.4,581.5 L375.1,584.4 L375.8,587.3 L376.4,590.2 L377.1,593.2 L377.8,596.1 L378.4,599.0 L379.1,601.9 L379.8,604.9 L380.4,607.8 L381.1,610.7 L381.8,613.6 L382.5,616.6 L383.2,619.5 L383.9,622.4 L384.5,625.3 L385.2,628.2 L385.9,631.2 L386.6,634.1 L387.3,637.0 L388.0,639.9 L388.7,642.8 L389.4,645.8 L390.1,648.7 L390.8,651.6 L391.5,654.5 L392.2,657.4 L392.9,660.3 L393.7,663.2 L394.4,666.1 L395.2,669.0 L395.9,671.9 L396.7,674.8 L397.5,677.7 L398.2,680.6 L399.0,683.5 L399.8,686.4 L400.6,689.3 L401.4,692.2 L402.2,695.1 L403.0,698.0 L403.8,700.9 L404.6,703.8 L405.4,706.7 L406.2,709.6 L407.0,712.4 L407.8,715.3 L408.6,718.2 L409.4,721.1 L410.2,724.0 L411.0,726.9 L411.8,729.8 L412.6,732.7 L413.3,735.6 L414.1,738.5 L414.9,741.4 L415.6,744.3 L416.4,747.2 L417.2,750.1 L417.9,753.0 L418.7,755.9 L419.5,758.8 L420.3,761.7 L421.0,764.6 L421.8,767.5 L422.6,770.4 L423.4,773.3 L424.2,776.2 L425.0,779.1 L425.8,782.0 L426.6,784.8 L427.5,787.7 L428.3,790.6 L429.1,793.5 L429.9,796.4 L430.7,799.3 L431.6,802.2 L432.4,805.0 L433.2,807.9 L434.0,810.8 L434.8,813.7 L435.6,816.6 L436.4,819.5 L437.2,822.4 L438.0,825.3 L438.8,828.2 L439.6,831.0 L440.4,833.9 L441.2,836.8 L442.0,839.7 L442.8,842.6 L443.6,845.5 L444.4,848.4 L445.2,851.3 L446.0,854.2 L446.8,857.1 L447.5,860.0 L448.3,862.9 L449.1,865.8 L449.9,868.7 L450.6,871.6 L451.4,874.5 L452.2,877.4 L452.9,880.3 L453.7,883.2 L454.4,886.1 L455.2,889.0 L456.0,891.9 L456.7,894.8 L457.5,897.7 L458.3,900.6 L459.1,903.5 L459.8,906.4 L460.6,909.3 L461.4,912.2 L462.2,915.1 L463.0,918.0 L463.8,920.9 L464.6,923.8 L465.3,926.7 L466.1,929.5 L466.9,932.4 L467.7,935.3 L468.5,938.2 L469.3,941.1 L470.1,944.0 L470.9,946.9 L471.7,949.8 L472.4,952.7 L473.2,955.6 L474.0,958.5 L474.8,961.4 L475.5,964.3 L476.3,967.2 L477.0,970.1 L477.8,973.0 L478.5,975.9 L479.2,978.8 L480.0,981.7 L480.7,984.7 L481.4,987.6 L482.1,990.5 L482.8,993.4 L483.5,996.3 L484.3,999.2 L485.0,1002.1 L485.7,1005.1 L486.4,1008.0 L487.0,1010.9 L487.7,1013.8 L488.4,1016.7 L489.1,1019.7 L489.8,1022.6 L490.5,1025.5 L491.2,1028.4 L491.9,1031.3 L492.5,1034.3 L493.2,1037.2 L493.9,1040.1 L494.6,1043.0 L495.3,1045.9 L496.0,1048.9 L496.6,1051.8 L497.3,1054.7 L498.0,1057.6 L498.7,1060.5 L499.4,1063.5 L500.1,1066.4 L500.7,1069.3 L501.4,1072.2 L502.0,1075.2 L502.7,1078.1 L503.3,1081.0 L504.0,1084.0 L504.6,1086.9 L505.2,1089.8 L505.9,1092.8 L506.5,1095.7 L507.1,1098.6 L507.8,1101.6 L508.4,1104.5 L509.0,1107.4 L509.7,1110.4 L510.3,1113.3 L511.0,1116.2 L511.6,1119.1 L512.3,1122.1 L512.9,1125.0 L513.6,1127.9 L514.3,1130.8 L514.9,1133.8 L515.6,1136.7 L516.3,1139.6 L517.0,1142.5 L517.7,1145.4 L518.4,1148.3 L519.2,1151.3 L519.9,1154.2 L520.6,1157.1 L521.3,1160.0 L522.1,1162.9 L522.8,1165.8 L523.6,1168.7 L524.3,1171.6 L525.1,1174.5 L525.8,1177.4 L526.6,1180.3 L527.4,1183.2 L528.2,1186.1 L529.0,1189.0 L529.8,1191.9 L530.6,1194.8 L531.4,1197.7 L532.2,1200.5 L533.1,1203.4 L533.9,1206.3 L534.8,1209.2 L535.6,1212.1 L536.4,1215.0 L537.2,1217.9 L538.0,1220.8 L538.8,1223.6 L539.6,1226.5 L540.4,1229.4 L541.2,1232.3 L542.0,1235.2 L542.8,1238.1 L543.7,1241.0 L544.5,1243.8 L545.4,1246.7 L546.3,1249.6 L547.2,1252.4 L548.1,1255.3 L549.1,1258.1 L550.0,1261.0 L550.9,1263.8 L551.9,1266.7 L552.8,1269.5 L553.8,1272.4 L554.7,1275.2 L555.7,1278.1 L556.6,1280.9 L557.6,1283.7 L558.6,1286.6 L559.6,1289.4 L560.6,1292.2 L561.6,1295.0 L562.7,1297.9 L563.8,1300.7 L564.8,1303.5 L565.9,1306.3 L567.0,1309.0 L568.1,1311.8 L569.2,1314.6 L570.3,1317.4 L571.4,1320.2 L572.5,1323.0 L573.7,1325.8 L574.8,1328.6 L576.0,1331.3 L577.2,1334.1 L578.4,1336.8 L579.7,1339.5 L581.0,1342.2 L582.3,1344.9 L583.6,1347.6 L585.0,1350.3 L586.4,1352.9 L587.8,1355.6 L589.3,1358.2 L590.7,1360.8 L592.2,1363.4 L593.7,1366.0 L595.2,1368.6 L596.8,1371.2 L598.4,1373.7 L600.0,1376.2 L601.7,1378.7 L603.5,1381.1 L605.3,1383.5 L607.1,1385.9 L609.0,1388.2 L610.9,1390.6 L612.9,1392.8 L614.9,1395.0 L617.0,1397.2 L619.1,1399.4 L621.2,1401.5 L623.4,1403.5 L625.6,1405.5 L627.9,1407.5 L630.2,1409.4 L632.5,1411.3 L634.9,1413.1 L637.4,1414.8 L639.8,1416.5 L642.3,1418.2 L644.9,1419.8 L647.4,1421.3 L650.1,1422.8 L652.7,1424.2 L655.4,1425.6 L658.1,1426.8 L660.8,1428.1 L663.6,1429.3 L666.4,1430.4 L669.2,1431.4 L672.0,1432.4 L674.9,1433.3 L677.7,1434.2 L680.6,1435.0 L683.5,1435.8 L686.4,1436.6 L689.3,1437.3 L692.2,1438.0 L695.2,1438.7 L698.1,1439.3 L701.0,1440.0 L704.0,1440.5 L706.9,1441.1 L709.9,1441.6 L712.8,1442.1 L715.8,1442.6 L718.8,1443.1 L721.7,1443.5 L724.7,1444.0 L727.7,1444.4 L730.6,1444.8 L733.6,1445.2 L736.6,1445.5 L739.6,1445.9 L742.6,1446.2 L745.5,1446.6 L748.5,1446.9 L751.5,1447.2 L754.5,1447.5 L757.5,1447.7 L760.5,1448.0 L763.5,1448.2 L766.4,1448.5 L769.4,1448.7 L772.4,1448.9 L775.4,1449.2 L778.4,1449.4 L781.4,1449.6 L784.4,1449.8 L787.4,1450.0 L790.4,1450.2 L793.4,1450.4 L796.4,1450.6 L799.4,1450.8 L802.4,1451.0 L805.4,1451.2 L808.3,1451.4 L811.3,1451.5 L814.3,1451.7 L817.3,1451.9 L820.3,1452.0 L823.3,1452.2 L826.3,1452.3 L829.3,1452.5 L832.3,1452.6 L835.3,1452.7 L838.3,1452.9 L841.3,1453.0 L844.3,1453.1 L847.3,1453.3 L850.3,1453.4 L853.3,1453.5 L856.3,1453.7 L859.3,1453.8 L862.3,1453.9 L865.3,1454.0 L868.3,1454.1 L871.3,1454.2 L874.3,1454.3 L877.3,1454.4 L880.3,1454.5 L883.3,1454.6 L886.3,1454.7 L889.3,1454.8 L892.3,1454.8 L895.3,1454.9 L898.3,1455.0 L901.3,1455.0 L904.3,1455.1 L907.3,1455.1 L910.3,1455.2 L913.3,1455.2 L916.3,1455.3 L919.3,1455.3 L922.3,1455.4 L925.3,1455.4 L928.3,1455.5 L931.3,1455.5 L934.3,1455.5 L937.3,1455.6 L940.3,1455.6 L943.3,1455.6 L946.3,1455.7 L949.3,1455.7 L952.3,1455.7 L955.3,1455.8 L958.3,1455.8 L961.3,1455.8 L964.3,1455.8 L967.3,1455.8 L970.3,1455.9 L973.3,1455.9 L976.3,1455.9 L979.3,1455.9 L982.3,1455.9 L985.3,1455.9 L988.3,1456.0 L991.3,1456.0 L994.3,1456.0 L997.3,1456.0 L1000.3,1456.0 L1003.3,1456.0 L1006.3,1456.0 L1009.3,1456.0 L1012.3,1456.0 L1015.3,1456.0 L1018.3,1456.0 L1021.3,1456.0 L1024.3,1456.0 L1027.3,1456.0 L1030.3,1456.0 L1033.3,1456.0 L1036.3,1456.0 L1039.3,1456.0 L1042.3,1456.0 L1045.3,1456.0 L1048.3,1456.0 L1051.3,1456.0 L1054.3,1455.9 L1057.3,1455.9 L1060.3,1455.9 L1063.3,1455.9 L1066.3,1455.9 L1069.3,1455.8 L1072.3,1455.8 L1075.3,1455.8 L1078.3,1455.7 L1081.3,1455.7 L1084.3,1455.7 L1087.3,1455.6 L1090.3,1455.6 L1093.3,1455.6 L1096.3,1455.5 L1099.3,1455.5 L1102.3,1455.5 L1105.3,1455.4 L1108.3,1455.4 L1111.3,1455.4 L1114.3,1455.3 L1117.3,1455.3 L1120.3,1455.2 L1123.3,1455.2 L1126.3,1455.2 L1129.3,1455.1 L1132.3,1455.1 L1135.3,1455.0 L1138.3,1455.0 L1141.3,1454.9 L1144.3,1454.9 L1147.3,1454.9 L1150.3,1454.8 L1153.3,1454.8 L1156.3,1454.7 L1159.3,1454.7 L1162.3,1454.6 L1165.3,1454.6 L1168.3,1454.5 L1171.3,1454.5 L1174.3,1454.4 L1177.3,1454.4 L1180.3,1454.4 L1183.3,1454.3 L1186.3,1454.3 L1189.3,1454.2 L1192.3,1454.2 L1195.3,1454.1 L1198.3,1454.1 L1201.3,1454.0 L1204.3,1454.0 L1207.3,1453.9 L1210.3,1453.9 L1213.3,1453.8 L1216.2,1453.8 L1219.2,1453.7 L1222.2,1453.7 L1225.2,1453.6 L1228.2,1453.6 L1231.2,1453.6 L1234.2,1453.5 L1237.2,1453.5 L1240.2,1453.4 L1243.2,1453.4 L1246.2,1453.3 L1249.2,1453.3 L1252.2,1453.2 L1255.2,1453.2 L1258.2,1453.1 L1261.2,1453.1 L1264.2,1453.0 L1267.2,1453.0 L1270.2,1452.9 L1273.2,1452.9 L1276.2,1452.9 L1279.2,1452.8 L1282.2,1452.8 L1285.2,1452.7 L1288.2,1452.7 L1291.2,1452.6 L1294.2,1452.6 L1297.2,1452.5 L1300.2,1452.5 L1303.2,1452.5 L1306.2,1452.4 L1309.2,1452.4 L1312.2,1452.3 L1315.2,1452.3 L1318.2,1452.2 L1321.2,1452.2 L1324.2,1452.2 L1327.2,1452.1 L1330.2,1452.1 L1333.2,1452.0 L1336.2,1452.0 L1339.2,1452.0 L1342.2,1451.9 L1345.2,1451.9 L1348.2,1451.8 L1351.2,1451.8 L1354.2,1451.8 L1357.2,1451.7 L1360.2,1451.7 L1363.2,1451.7 L1366.2,1451.6 L1369.2,1451.6 L1372.2,1451.5 L1375.2,1451.5 L1378.2,1451.5 L1381.2,1451.4 L1384.2,1451.4 L1387.2,1451.4 L1390.2,1451.3 L1393.2,1451.3 L1396.2,1451.2 L1399.2,1451.2 L1402.2,1451.2 L1405.2,1451.1 L1408.2,1451.1 L1411.2,1451.0 L1414.2,1451.0 L1417.2,1451.0 L1420.2,1450.9 L1423.2,1450.9 L1426.2,1450.8 L1429.2,1450.8 L1432.2,1450.8 L1435.2,1450.7 L1438.2,1450.7 L1441.2,1450.6 L1444.2,1450.6 L1447.2,1450.5 L1450.2,1450.5 L1453.2,1450.5 L1456.2,1450.4 L1459.2,1450.4 L1462.2,1450.3 L1465.2,1450.3 L1468.2,1450.2 L1471.2,1450.2 L1474.2,1450.1 L1477.2,1450.1 L1480.2,1450.0 L1483.2,1450.0 L1486.2,1449.9 L1489.2,1449.9 L1492.2,1449.9 L1495.2,1449.8 L1498.2,1449.8 L1501.2,1449.7 L1504.2,1449.7 L1507.2,1449.6 L1510.2,1449.6 L1513.2,1449.5 L1516.2,1449.5 L1519.2,1449.4 L1522.2,1449.4 L1525.2,1449.3 L1528.2,1449.3 L1531.2,1449.2 L1534.2,1449.2 L1537.2,1449.1 L1540.2,1449.1 L1543.2,1449.0 L1546.2,1449.0 L1549.2,1448.9 L1552.2,1448.9 L1555.2,1448.8 L1558.2,1448.8 L1561.2,1448.7 L1564.2,1448.7 L1567.2,1448.6 L1570.2,1448.6 L1573.2,1448.5 L1576.2,1448.5 L1579.2,1448.5 L1582.2,1448.4 L1585.2,1448.4 L1588.2,1448.3 L1591.2,1448.3 L1594.2,1448.2 L1597.2,1448.2 L1600.2,1448.1 L1603.2,1448.1 L1606.2,1448.0 L1609.2,1448.0 L1612.2,1447.9 L1615.2,1447.9 L1618.2,1447.8 L1621.2,1447.8 L1624.2,1447.7 L1627.2,1447.7 L1630.2,1447.6 L1633.2,1447.6 L1636.2,1447.5 L1638.0,1447.5 L1644.0,1447.4" fill="none" stroke="#000000" stroke-width="8.6" stroke-linejoin="round" stroke-linecap="butt"/>
<path d="M146.6,293.9 L147.4,288.0 L147.8,285.0 L148.2,282.1 L148.6,279.1 L149.0,276.1 L149.4,273.1 L149.8,270.2 L150.2,267.2 L150.7,264.2 L151.1,261.3 L151.5,258.3 L151.9,255.3 L152.3,252.3 L152.8,249.4 L153.2,246.4 L153.6,243.4 L154.0,240.5 L154.4,237.5 L154.9,234.5 L155.3,231.5 L155.7,228.6 L156.1,225.6 L156.6,222.6 L157.1,219.7 L157.5,216.7 L158.0,213.8 L158.5,210.8 L159.0,207.8 L159.5,204.9 L160.0,201.9 L160.6,199.0 L161.1,196.0 L161.7,193.1 L162.3,190.1 L162.8,187.2 L163.3,184.2 L163.9,181.3 L164.3,178.3 L164.8,175.4 L165.3,172.4 L165.8,169.4 L166.3,166.5 L166.7,163.5 L167.3,160.6 L167.8,157.6 L168.3,154.6 L168.8,151.7 L169.4,148.7 L169.9,145.8 L170.6,142.9 L171.2,139.9 L172.0,137.0 L172.8,134.1 L173.6,131.3 L174.5,128.4 L175.4,125.5 L176.4,122.7 L177.4,119.9 L178.4,117.1 L179.4,114.2 L180.5,111.4 L181.5,108.6 L182.6,105.8 L183.7,103.0 L184.8,100.2 L185.8,97.4 L186.7,94.5 L187.8,91.7 L188.9,88.9 L190.1,86.2 L191.6,83.6 L193.4,81.2 L195.5,79.1 L197.9,77.2 L200.4,75.6 L203.1,74.3 L205.9,73.3 L208.8,72.5 L211.8,72.0 L214.8,71.6 L217.7,71.3 L220.7,71.2 L223.7,71.2 L226.7,71.3 L229.7,71.3 L232.7,70.7 L235.6,69.9 L238.3,68.7 L241.0,67.3 L243.5,65.6 L246.0,64.0 L248.6,62.6 L251.4,61.6 L254.4,61.3 L257.4,61.6 L260.3,62.3 L263.2,63.1 L266.1,64.0 L269.0,64.8 L271.8,65.7 L274.6,66.7 L277.3,68.1 L279.7,69.9 L281.8,72.1 L283.6,74.4 L285.3,76.9 L286.9,79.5 L288.4,82.1 L289.8,84.7 L291.3,87.3 L292.8,89.9 L294.3,92.5 L295.9,95.1 L297.4,97.6 L298.9,100.2 L300.4,102.8 L301.8,105.5 L303.1,108.2 L304.4,110.9 L305.5,113.7 L306.6,116.5 L307.7,119.3 L308.7,122.1 L309.7,124.9 L310.7,127.8 L311.6,130.6 L312.5,133.5 L313.4,136.4 L314.2,139.2 L315.1,142.1 L315.9,145.0 L316.8,147.9 L317.6,150.7 L318.5,153.6 L319.3,156.5 L320.1,159.4 L320.9,162.3 L321.7,165.2 L322.4,168.1 L323.1,171.0 L323.7,173.9 L324.4,176.9 L325.0,179.8 L325.6,182.7 L326.3,185.7 L327.0,188.6 L327.7,191.5 L328.5,194.4 L329.3,197.3 L330.1,200.2 L330.9,203.1 L331.7,206.0 L332.4,208.9 L333.1,211.8 L333.8,214.7 L334.4,217.6 L335.0,220.6 L335.6,223.5 L336.1,226.5 L336.7,229.4 L337.3,232.4 L337.8,235.3 L338.4,238.3 L339.0,241.2 L339.6,244.1 L340.2,247.1 L340.8,250.0 L341.3,253.0 L341.9,255.9 L342.5,258.9 L343.1,261.8 L343.7,264.7 L344.3,267.7 L344.9,270.6 L345.5,273.6 L346.0,276.5 L346.6,279.4 L347.2,282.4 L347.8,285.3 L348.4,288.3 L349.0,291.2 L349.6,294.2 L350.1,297.1 L350.7,300.0 L351.3,303.0 L351.9,305.9 L352.4,308.9 L353.0,311.8 L353.6,314.8 L354.1,317.7 L354.7,320.7 L355.3,323.6 L355.8,326.6 L356.3,329.5 L356.9,332.5 L357.4,335.4 L357.9,338.4 L358.4,341.3 L359.0,344.3 L359.5,347.2 L360.1,350.2 L360.6,353.1 L361.2,356.1 L361.8,359.0 L362.4,361.9 L363.0,364.9 L363.6,367.8 L364.1,370.8 L364.7,373.7 L365.2,376.7 L365.8,379.6 L366.3,382.6 L366.9,385.5 L367.4,388.5 L368.0,391.4 L368.6,394.4 L369.1,397.3 L369.7,400.3 L370.2,403.2 L370.8,406.2 L371.3,409.1 L371.8,412.1 L372.4,415.0 L372.9,418.0 L373.5,420.9 L374.0,423.9 L374.6,426.8 L375.2,429.8 L375.7,432.7 L376.3,435.7 L376.8,438.6 L377.4,441.6 L378.0,444.5 L378.5,447.4 L379.1,450.4 L379.7,453.3 L380.2,456.3 L380.8,459.2 L381.4,462.2 L381.9,465.1 L382.5,468.1 L383.1,471.0 L383.6,474.0 L384.2,476.9 L384.8,479.8 L385.4,482.8 L386.0,485.7 L386.5,488.7 L387.1,491.6 L387.7,494.6 L388.3,497.5 L388.9,500.4 L389.5,503.4 L390.1,506.3 L390.7,509.3 L391.3,512.2 L391.9,515.1 L392.5,518.1 L393.1,521.0 L393.7,523.9 L394.3,526.9 L394.9,529.8 L395.5,532.8 L396.2,535.7 L396.8,538.6 L397.4,541.6 L398.0,544.5 L398.6,547.4 L399.3,550.4 L399.9,553.3 L400.6,556.2 L401.2,559.2 L401.8,562.1 L402.5,565.0 L403.1,568.0 L403.8,570.9 L404.4,573.8 L405.1,576.7 L405.7,579.7 L406.3,582.6 L407.0,585.5 L407.6,588.5 L408.2,591.4 L408.9,594.3 L409.5,597.3 L410.1,600.2 L410.7,603.1 L411.4,606.1 L412.0,609.0 L412.6,611.9 L413.2,614.9 L413.8,617.8 L414.4,620.8 L415.1,623.7 L415.7,626.6 L416.3,629.6 L416.9,632.5 L417.5,635.4 L418.1,638.4 L418.7,641.3 L419.4,644.2 L420.0,647.2 L420.6,650.1 L421.2,653.0 L421.9,656.0 L422.5,658.9 L423.2,661.8 L423.8,664.8 L424.5,667.7 L425.1,670.6 L425.8,673.5 L426.5,676.5 L427.1,679.4 L427.8,682.3 L428.5,685.2 L429.2,688.2 L429.8,691.1 L430.5,694.0 L431.2,696.9 L431.9,699.9 L432.5,702.8 L433.2,705.7 L433.9,708.6 L434.6,711.6 L435.2,714.5 L435.9,717.4 L436.6,720.3 L437.3,723.2 L438.0,726.2 L438.7,729.1 L439.4,732.0 L440.1,734.9 L440.8,737.8 L441.5,740.7 L442.2,743.7 L442.9,746.6 L443.6,749.5 L444.3,752.4 L444.9,755.3 L445.6,758.3 L446.3,761.2 L447.0,764.1 L447.7,767.0 L448.4,769.9 L449.1,772.9 L449.8,775.8 L450.4,778.7 L451.1,781.6 L451.8,784.5 L452.5,787.5 L453.1,790.4 L453.8,793.3 L454.4,796.2 L455.1,799.2 L455.7,802.1 L456.4,805.0 L457.0,808.0 L457.7,810.9 L458.3,813.8 L458.9,816.8 L459.6,819.7 L460.2,822.6 L460.8,825.6 L461.5,828.5 L462.1,831.4 L462.8,834.3 L463.4,837.3 L464.1,840.2 L464.8,843.1 L465.4,846.0 L466.1,849.0 L466.8,851.9 L467.5,854.8 L468.2,857.7 L468.8,860.7 L469.5,863.6 L470.2,866.5 L470.9,869.4 L471.6,872.3 L472.2,875.3 L472.9,878.2 L473.6,881.1 L474.2,884.0 L474.8,887.0 L475.5,889.9 L476.1,892.8 L476.7,895.8 L477.3,898.7 L477.9,901.7 L478.5,904.6 L479.1,907.5 L479.7,910.5 L480.3,913.4 L480.8,916.4 L481.4,919.3 L481.9,922.3 L482.5,925.2 L483.0,928.2 L483.6,931.1 L484.1,934.1 L484.7,937.0 L485.2,940.0 L485.8,942.9 L486.3,945.9 L486.9,948.8 L487.4,951.8 L487.9,954.7 L488.5,957.7 L489.1,960.6 L489.6,963.6 L490.2,966.5 L490.7,969.5 L491.3,972.4 L491.8,975.4 L492.4,978.3 L492.9,981.3 L493.5,984.2 L494.0,987.2 L494.6,990.1 L495.1,993.0 L495.7,996.0 L496.3,998.9 L496.8,1001.9 L497.4,1004.8 L497.9,1007.8 L498.5,1010.7 L499.1,1013.7 L499.6,1016.6 L500.2,1019.6 L500.8,1022.5 L501.3,1025.5 L501.9,1028.4 L502.5,1031.4 L503.1,1034.3 L503.7,1037.2 L504.3,1040.2 L504.9,1043.1 L505.5,1046.0 L506.1,1049.0 L506.7,1051.9 L507.3,1054.9 L507.9,1057.8 L508.5,1060.7 L509.1,1063.7 L509.7,1066.6 L510.3,1069.6 L510.9,1072.5 L511.5,1075.4 L512.1,1078.4 L512.7,1081.3 L513.2,1084.3 L513.8,1087.2 L514.4,1090.2 L515.0,1093.1 L515.6,1096.0 L516.1,1099.0 L516.7,1101.9 L517.3,1104.9 L517.9,1107.8 L518.5,1110.8 L519.1,1113.7 L519.7,1116.6 L520.3,1119.6 L520.9,1122.5 L521.6,1125.4 L522.2,1128.4 L522.8,1131.3 L523.5,1134.2 L524.1,1137.2 L524.8,1140.1 L525.4,1143.0 L526.1,1145.9 L526.8,1148.9 L527.5,1151.8 L528.2,1154.7 L528.9,1157.6 L529.6,1160.5 L530.3,1163.4 L531.0,1166.4 L531.7,1169.3 L532.4,1172.2 L533.2,1175.1 L533.9,1178.0 L534.6,1180.9 L535.3,1183.8 L536.1,1186.7 L536.8,1189.7 L537.5,1192.6 L538.3,1195.5 L539.1,1198.4 L539.8,1201.3 L540.6,1204.2 L541.4,1207.1 L542.1,1210.0 L542.9,1212.9 L543.7,1215.8 L544.5,1218.6 L545.3,1221.5 L546.0,1224.4 L546.8,1227.3 L547.6,1230.2 L548.4,1233.1 L549.2,1236.0 L550.0,1238.9 L550.8,1241.8 L551.7,1244.7 L552.5,1247.6 L553.3,1250.5 L554.1,1253.3 L555.0,1256.2 L555.8,1259.1 L556.7,1261.9 L557.7,1264.8 L558.6,1267.6 L559.6,1270.5 L560.6,1273.3 L561.6,1276.1 L562.7,1278.9 L563.7,1281.7 L564.8,1284.5 L565.9,1287.4 L566.9,1290.2 L567.9,1293.0 L568.9,1295.8 L569.9,1298.7 L570.8,1301.5 L571.7,1304.4 L572.6,1307.2 L573.5,1310.1 L574.4,1313.0 L575.3,1315.8 L576.2,1318.7 L577.2,1321.5 L578.2,1324.4 L579.2,1327.2 L580.3,1330.0 L581.4,1332.7 L582.6,1335.5 L583.8,1338.3 L585.0,1341.0 L586.2,1343.8 L587.4,1346.5 L588.7,1349.2 L589.9,1351.9 L591.2,1354.6 L592.6,1357.3 L594.0,1360.0 L595.4,1362.6 L596.9,1365.2 L598.4,1367.8 L600.0,1370.4 L601.6,1372.9 L603.3,1375.4 L605.0,1377.8 L606.8,1380.2 L608.6,1382.6 L610.4,1385.0 L612.3,1387.3 L614.2,1389.6 L616.2,1391.9 L618.2,1394.2 L620.2,1396.4 L622.3,1398.6 L624.4,1400.7 L626.6,1402.8 L628.8,1404.8 L631.0,1406.8 L633.4,1408.7 L635.7,1410.5 L638.1,1412.3 L640.6,1414.0 L643.1,1415.6 L645.7,1417.1 L648.4,1418.5 L651.0,1419.9 L653.7,1421.3 L656.4,1422.6 L659.1,1424.0 L661.7,1425.3 L664.4,1426.7 L667.1,1428.0 L669.8,1429.2 L672.6,1430.5 L675.4,1431.6 L678.2,1432.7 L681.0,1433.7 L683.8,1434.6 L686.7,1435.5 L689.6,1436.3 L692.5,1437.1 L695.4,1437.9 L698.3,1438.7 L701.2,1439.4 L704.1,1440.1 L707.0,1440.8 L710.0,1441.4 L712.9,1442.1 L715.8,1442.7 L718.8,1443.3 L721.7,1443.9 L724.7,1444.4 L727.6,1444.9 L730.6,1445.4 L733.5,1445.9 L736.5,1446.3 L739.5,1446.7 L742.5,1447.0 L745.4,1447.3 L748.4,1447.6 L751.4,1447.9 L754.4,1448.2 L757.4,1448.5 L760.4,1448.8 L763.4,1449.1 L766.3,1449.3 L769.3,1449.6 L772.3,1449.9 L775.3,1450.1 L778.3,1450.4 L781.3,1450.6 L784.3,1450.8 L787.3,1451.0 L790.3,1451.3 L793.3,1451.5 L796.3,1451.6 L799.3,1451.8 L802.2,1452.0 L805.2,1452.2 L808.2,1452.4 L811.2,1452.5 L814.2,1452.7 L817.2,1452.8 L820.2,1453.0 L823.2,1453.1 L826.2,1453.2 L829.2,1453.4 L832.2,1453.5 L835.2,1453.6 L838.2,1453.7 L841.2,1453.8 L844.2,1453.8 L847.2,1453.9 L850.2,1454.0 L853.2,1454.1 L856.2,1454.2 L859.2,1454.2 L862.2,1454.3 L865.2,1454.4 L868.2,1454.4 L871.2,1454.5 L874.2,1454.6 L877.2,1454.7 L880.2,1454.7 L883.2,1454.8 L886.2,1454.8 L889.2,1454.9 L892.2,1455.0 L895.2,1455.0 L898.2,1455.1 L901.2,1455.1 L904.2,1455.1 L907.2,1455.2 L910.2,1455.2 L913.2,1455.3 L916.2,1455.3 L919.2,1455.3 L922.2,1455.3 L925.2,1455.4 L928.2,1455.4 L931.2,1455.4 L934.2,1455.4 L937.2,1455.4 L940.2,1455.4 L943.2,1455.4 L946.2,1455.4 L949.2,1455.4 L952.2,1455.4 L955.2,1455.4 L958.2,1455.4 L961.2,1455.4 L964.2,1455.3 L967.2,1455.3 L970.2,1455.3 L973.2,1455.3 L976.2,1455.2 L979.2,1455.2 L982.2,1455.2 L985.2,1455.2 L988.2,1455.1 L991.2,1455.1 L994.2,1455.1 L997.2,1455.0 L1000.2,1455.0 L1003.2,1454.9 L1006.2,1454.9 L1009.2,1454.9 L1012.2,1454.8 L1015.2,1454.8 L1018.2,1454.7 L1021.2,1454.7 L1024.2,1454.6 L1027.2,1454.6 L1030.2,1454.6 L1033.2,1454.5 L1036.2,1454.5 L1039.2,1454.4 L1042.2,1454.4 L1045.2,1454.3 L1048.2,1454.3 L1051.2,1454.2 L1054.2,1454.2 L1057.2,1454.1 L1060.2,1454.0 L1063.2,1454.0 L1066.2,1453.9 L1069.2,1453.9 L1072.2,1453.8 L1075.2,1453.8 L1078.2,1453.7 L1081.2,1453.7 L1084.2,1453.6 L1087.2,1453.5 L1090.2,1453.5 L1093.2,1453.4 L1096.2,1453.4 L1099.2,1453.3 L1102.2,1453.3 L1105.2,1453.2 L1108.2,1453.1 L1111.2,1453.1 L1114.2,1453.0 L1117.2,1452.9 L1120.2,1452.9 L1123.2,1452.8 L1126.2,1452.8 L1129.2,1452.7 L1132.2,1452.6 L1135.2,1452.5 L1138.2,1452.5 L1141.2,1452.4 L1144.2,1452.3 L1147.2,1452.3 L1150.2,1452.2 L1153.2,1452.1 L1156.2,1452.1 L1159.2,1452.0 L1162.2,1451.9 L1165.2,1451.8 L1168.2,1451.8 L1171.2,1451.7 L1174.2,1451.6 L1177.2,1451.6 L1180.2,1451.5 L1183.2,1451.4 L1186.2,1451.3 L1189.2,1451.3 L1192.1,1451.2 L1195.1,1451.1 L1198.1,1451.0 L1201.1,1451.0 L1204.1,1450.9 L1207.1,1450.8 L1210.1,1450.7 L1213.1,1450.7 L1216.1,1450.6 L1219.1,1450.5 L1222.1,1450.4 L1225.1,1450.4 L1228.1,1450.3 L1231.1,1450.2 L1234.1,1450.1 L1237.1,1450.1 L1240.1,1450.0 L1243.1,1449.9 L1246.1,1449.8 L1249.1,1449.8 L1252.1,1449.7 L1255.1,1449.6 L1258.1,1449.6 L1261.1,1449.5 L1264.1,1449.4 L1267.1,1449.3 L1270.1,1449.3 L1273.1,1449.2 L1276.1,1449.1 L1279.1,1449.1 L1282.1,1449.0 L1285.1,1448.9 L1288.1,1448.9 L1291.1,1448.8 L1294.1,1448.7 L1297.1,1448.7 L1300.1,1448.6 L1303.1,1448.5 L1306.1,1448.5 L1309.1,1448.4 L1312.1,1448.4 L1315.1,1448.3 L1318.1,1448.2 L1321.1,1448.2 L1324.1,1448.1 L1327.1,1448.1 L1330.1,1448.0 L1333.1,1448.0 L1336.1,1447.9 L1339.1,1447.9 L1342.1,1447.9 L1345.1,1447.8 L1348.1,1447.8 L1351.1,1447.7 L1354.1,1447.7 L1357.1,1447.7 L1360.1,1447.6 L1363.1,1447.6 L1366.1,1447.6 L1369.1,1447.5 L1372.1,1447.5 L1375.1,1447.4 L1378.1,1447.4 L1381.1,1447.4 L1384.1,1447.3 L1387.1,1447.3 L1390.1,1447.3 L1393.1,1447.2 L1396.1,1447.2 L1399.1,1447.1 L1402.1,1447.1 L1405.1,1447.0 L1408.1,1447.0 L1411.1,1446.9 L1414.1,1446.9 L1417.1,1446.8 L1420.1,1446.8 L1423.1,1446.7 L1426.1,1446.7 L1429.1,1446.6 L1432.1,1446.6 L1435.1,1446.5 L1438.1,1446.4 L1441.1,1446.4 L1444.1,1446.3 L1447.1,1446.3 L1450.1,1446.2 L1453.1,1446.2 L1456.1,1446.1 L1459.1,1446.1 L1462.1,1446.0 L1465.1,1446.0 L1468.1,1445.9 L1471.1,1445.8 L1474.1,1445.8 L1477.1,1445.7 L1480.1,1445.7 L1483.1,1445.6 L1486.1,1445.6 L1489.1,1445.5 L1492.1,1445.4 L1495.1,1445.4 L1498.1,1445.3 L1501.1,1445.3 L1504.1,1445.2 L1507.1,1445.2 L1510.1,1445.1 L1513.1,1445.1 L1516.1,1445.0 L1519.1,1444.9 L1522.1,1444.9 L1525.1,1444.8 L1528.1,1444.8 L1531.1,1444.7 L1534.1,1444.6 L1537.1,1444.6 L1540.1,1444.5 L1543.1,1444.5 L1546.1,1444.4 L1549.1,1444.4 L1552.1,1444.3 L1555.1,1444.2 L1558.1,1444.2 L1561.1,1444.1 L1564.1,1444.1 L1567.1,1444.0 L1570.1,1443.9 L1573.1,1443.9 L1576.1,1443.8 L1579.1,1443.8 L1582.1,1443.7 L1585.1,1443.6 L1588.1,1443.6 L1591.1,1443.5 L1594.1,1443.5 L1597.1,1443.4 L1600.1,1443.3 L1603.1,1443.3 L1606.1,1443.2 L1609.1,1443.2 L1612.1,1443.1 L1615.1,1443.1 L1618.1,1443.0 L1621.1,1442.9 L1624.1,1442.9 L1627.1,1442.8 L1630.1,1442.8 L1633.1,1442.7 L1636.1,1442.6 L1638.0,1442.6 L1644.0,1442.5" fill="none" stroke="#ff0000" stroke-width="8.6" stroke-linejoin="round" stroke-linecap="butt"/>
<path d="M143.0,1136.9 L147.9,1133.4 L150.1,1131.3 L152.4,1129.5 L155.0,1127.9 L157.6,1126.5 L160.4,1125.3 L163.3,1124.5 L166.2,1124.0 L169.2,1124.2 L172.1,1124.9 L174.9,1126.0 L177.5,1127.5 L180.0,1129.2 L182.3,1131.1 L184.5,1133.2 L186.5,1135.4 L188.4,1137.7 L190.3,1140.0 L192.1,1142.4 L193.9,1144.8 L195.8,1147.2 L197.5,1149.6 L199.3,1152.0 L200.9,1154.5 L202.5,1157.1 L204.0,1159.7 L205.6,1162.2 L207.1,1164.8 L208.6,1167.4 L210.1,1170.0 L211.6,1172.6 L213.2,1175.2 L214.7,1177.8 L216.2,1180.3 L217.8,1182.9 L219.3,1185.5 L220.9,1188.0 L222.5,1190.6 L224.1,1193.1 L225.8,1195.6 L227.4,1198.1 L229.2,1200.5 L230.9,1203.0 L232.7,1205.4 L234.5,1207.8 L236.3,1210.2 L238.1,1212.6 L240.0,1214.9 L241.9,1217.2 L243.9,1219.5 L245.9,1221.7 L247.9,1224.0 L250.0,1226.1 L252.1,1228.3 L254.2,1230.4 L256.4,1232.5 L258.5,1234.5 L260.7,1236.6 L262.9,1238.7 L265.1,1240.7 L267.3,1242.7 L269.6,1244.7 L271.9,1246.6 L274.1,1248.6 L276.3,1250.6 L278.5,1252.7 L280.6,1254.8 L282.7,1257.0 L284.6,1259.3 L286.6,1261.6 L288.4,1263.9 L290.3,1266.3 L292.1,1268.7 L293.9,1271.1 L295.6,1273.5 L297.3,1276.0 L299.0,1278.5 L300.7,1281.0 L302.3,1283.5 L303.9,1286.0 L305.6,1288.5 L307.2,1291.0 L308.9,1293.5 L310.5,1296.0 L312.1,1298.5 L313.8,1301.1 L315.4,1303.6 L317.1,1306.1 L318.8,1308.6 L320.4,1311.0 L322.2,1313.5 L323.9,1315.9 L325.7,1318.3 L327.6,1320.7 L329.4,1323.1 L331.3,1325.4 L333.2,1327.7 L335.1,1330.0 L337.1,1332.3 L339.1,1334.5 L341.1,1336.7 L343.3,1338.8 L345.5,1340.9 L347.8,1342.7 L350.3,1344.5 L352.8,1346.0 L355.5,1347.4 L358.2,1348.7 L361.0,1349.8 L363.8,1350.9 L366.6,1351.8 L369.5,1352.7 L372.4,1353.5 L375.3,1354.3 L378.2,1355.0 L381.1,1355.7 L384.1,1356.3 L387.0,1356.8 L390.0,1357.2 L393.0,1357.5 L396.0,1357.8 L399.0,1357.9 L402.0,1357.9 L405.0,1357.9 L408.0,1357.7 L410.9,1357.5 L413.9,1357.2 L416.9,1356.9 L419.9,1356.6 L422.9,1356.3 L425.9,1356.0 L428.9,1355.7 L431.8,1355.5 L434.8,1355.2 L437.8,1355.0 L440.8,1354.8 L443.8,1354.8 L446.8,1354.8 L449.8,1355.0 L452.8,1355.3 L455.8,1355.7 L458.7,1356.2 L461.7,1356.8 L464.6,1357.4 L467.5,1358.1 L470.4,1358.9 L473.3,1359.7 L476.2,1360.5 L479.1,1361.4 L481.9,1362.4 L484.7,1363.4 L487.5,1364.4 L490.3,1365.5 L493.1,1366.7 L495.9,1367.9 L498.6,1369.1 L501.4,1370.2 L504.1,1371.4 L506.9,1372.6 L509.6,1373.8 L512.4,1375.0 L515.1,1376.2 L517.8,1377.5 L520.5,1378.9 L523.2,1380.2 L525.8,1381.6 L528.5,1383.1 L531.1,1384.5 L533.7,1385.9 L536.4,1387.4 L539.0,1388.8 L541.6,1390.3 L544.2,1391.7 L546.9,1393.2 L549.5,1394.7 L552.1,1396.1 L554.7,1397.6 L557.4,1399.0 L560.0,1400.5 L562.6,1401.9 L565.3,1403.3 L567.9,1404.7 L570.6,1406.1 L573.3,1407.4 L576.0,1408.8 L578.7,1410.1 L581.4,1411.4 L584.1,1412.7 L586.8,1414.0 L589.5,1415.2 L592.2,1416.5 L595.0,1417.7 L597.8,1418.8 L600.5,1419.9 L603.4,1420.9 L606.2,1421.9 L609.0,1422.9 L611.9,1423.8 L614.7,1424.8 L617.6,1425.7 L620.5,1426.6 L623.3,1427.4 L626.2,1428.3 L629.1,1429.1 L632.0,1429.9 L634.9,1430.6 L637.8,1431.4 L640.7,1432.1 L643.6,1432.9 L646.5,1433.6 L649.4,1434.5 L652.3,1435.3 L655.2,1436.0 L658.1,1436.7 L661.0,1437.4 L664.0,1438.0 L666.9,1438.6 L669.8,1439.2 L672.8,1439.8 L675.7,1440.4 L678.7,1441.0 L681.6,1441.6 L684.6,1442.1 L687.5,1442.7 L690.5,1443.2 L693.4,1443.7 L696.4,1444.2 L699.3,1444.7 L702.3,1445.2 L705.3,1445.7 L708.2,1446.1 L711.2,1446.5 L714.2,1446.9 L717.1,1447.3 L720.1,1447.6 L723.1,1447.9 L726.1,1448.2 L729.1,1448.5 L732.1,1448.8 L735.1,1449.0 L738.0,1449.3 L741.0,1449.5 L744.0,1449.7 L747.0,1449.9 L750.0,1450.1 L753.0,1450.3 L756.0,1450.5 L759.0,1450.7 L762.0,1450.9 L765.0,1451.1 L768.0,1451.3 L771.0,1451.5 L774.0,1451.7 L777.0,1451.9 L780.0,1452.1 L782.9,1452.3 L785.9,1452.5 L788.9,1452.7 L791.9,1452.9 L794.9,1453.0 L797.9,1453.2 L800.9,1453.3 L803.9,1453.5 L806.9,1453.6 L809.9,1453.8 L812.9,1453.9 L815.9,1454.1 L818.9,1454.2 L821.9,1454.4 L824.9,1454.5 L827.9,1454.6 L830.9,1454.7 L833.9,1454.9 L836.9,1455.0 L839.9,1455.1 L842.9,1455.2 L845.9,1455.3 L848.9,1455.5 L851.9,1455.6 L854.9,1455.8 L857.8,1456.1 L860.8,1456.4 L863.8,1456.5 L866.8,1456.6 L869.8,1456.6 L872.8,1456.7 L875.8,1456.7 L878.8,1456.8 L881.8,1456.8 L884.8,1456.8 L887.8,1456.9 L890.8,1456.9 L893.8,1456.9 L896.8,1457.0 L899.8,1457.0 L902.8,1457.0 L905.8,1457.0 L908.8,1457.1 L911.8,1457.1 L914.8,1457.1 L917.8,1457.1 L920.8,1457.2 L923.8,1457.2 L926.8,1457.2 L929.8,1457.2 L932.8,1457.3 L935.8,1457.3 L938.8,1457.3 L941.8,1457.3 L944.8,1457.3 L947.8,1457.4 L950.8,1457.4 L953.8,1457.4 L956.8,1457.4 L959.8,1457.4 L962.8,1457.5 L965.8,1457.5 L968.8,1457.5 L971.8,1457.5 L974.8,1457.5 L977.8,1457.6 L980.8,1457.6 L983.8,1457.6 L986.8,1457.6 L989.8,1457.6 L992.8,1457.7 L995.8,1457.7 L998.8,1457.7 L1001.8,1457.7 L1004.8,1457.7 L1007.8,1457.7 L1010.8,1457.8 L1013.8,1457.8 L1016.8,1457.8 L1019.8,1457.8 L1022.8,1457.8 L1025.8,1457.8 L1028.8,1457.9 L1031.8,1457.9 L1034.8,1457.9 L1037.8,1457.9 L1040.8,1457.9 L1043.8,1457.9 L1046.8,1458.0 L1049.8,1458.0 L1052.8,1458.0 L1055.8,1458.0 L1058.8,1458.0 L1061.8,1458.0 L1064.8,1458.0 L1067.8,1458.1 L1070.8,1458.1 L1073.8,1458.1 L1076.8,1458.1 L1079.8,1458.1 L1082.8,1458.1 L1085.8,1458.1 L1088.8,1458.1 L1091.8,1458.2 L1094.8,1458.2 L1097.8,1458.2 L1100.8,1458.2 L1103.8,1458.2 L1106.8,1458.2 L1109.8,1458.2 L1112.8,1458.2 L1115.8,1458.3 L1118.8,1458.3 L1121.8,1458.3 L1124.8,1458.3 L1127.8,1458.3 L1130.8,1458.3 L1133.8,1458.3 L1136.8,1458.3 L1139.8,1458.3 L1142.8,1458.3 L1145.8,1458.4 L1148.8,1458.4 L1151.8,1458.4 L1154.8,1458.4 L1157.8,1458.4 L1160.8,1458.4 L1163.8,1458.4 L1166.8,1458.4 L1169.8,1458.4 L1172.8,1458.4 L1175.8,1458.4 L1178.8,1458.5 L1181.8,1458.5 L1184.8,1458.5 L1187.8,1458.5 L1190.8,1458.5 L1193.8,1458.5 L1196.8,1458.5 L1199.8,1458.5 L1202.8,1458.5 L1205.8,1458.5 L1208.8,1458.5 L1211.8,1458.5 L1214.8,1458.5 L1217.8,1458.5 L1220.8,1458.5 L1223.8,1458.5 L1226.8,1458.5 L1229.8,1458.5 L1232.8,1458.6 L1235.8,1458.6 L1238.8,1458.6 L1241.8,1458.6 L1244.8,1458.6 L1247.8,1458.6 L1250.8,1458.6 L1253.8,1458.6 L1256.8,1458.6 L1259.8,1458.6 L1262.8,1458.6 L1265.8,1458.6 L1268.8,1458.6 L1271.8,1458.6 L1274.8,1458.6 L1277.8,1458.6 L1280.8,1458.6 L1283.8,1458.6 L1286.8,1458.6 L1289.8,1458.6 L1292.8,1458.6 L1295.8,1458.6 L1298.8,1458.6 L1301.8,1458.6 L1304.8,1458.6 L1307.8,1458.6 L1310.8,1458.6 L1313.8,1458.6 L1316.8,1458.6 L1319.8,1458.6 L1322.8,1458.6 L1325.8,1458.6 L1328.8,1458.6 L1331.8,1458.6 L1334.8,1458.6 L1337.8,1458.6 L1340.8,1458.6 L1343.8,1458.6 L1346.8,1458.6 L1349.8,1458.6 L1352.8,1458.6 L1355.8,1458.6 L1358.8,1458.6 L1361.8,1458.6 L1364.8,1458.6 L1367.8,1458.6 L1370.8,1458.6 L1373.8,1458.6 L1376.8,1458.6 L1379.8,1458.6 L1382.8,1458.6 L1385.8,1458.6 L1388.8,1458.6 L1391.8,1458.6 L1394.8,1458.6 L1397.8,1458.6 L1400.8,1458.6 L1403.8,1458.6 L1406.8,1458.6 L1409.8,1458.6 L1412.8,1458.6 L1415.8,1458.6 L1418.8,1458.6 L1421.8,1458.6 L1424.8,1458.6 L1427.8,1458.6 L1430.8,1458.6 L1433.8,1458.6 L1436.8,1458.6 L1439.8,1458.6 L1442.8,1458.6 L1445.8,1458.6 L1448.8,1458.6 L1451.8,1458.6 L1454.8,1458.6 L1457.8,1458.6 L1460.8,1458.6 L1463.8,1458.6 L1466.8,1458.6 L1469.8,1458.6 L1472.8,1458.6 L1475.8,1458.6 L1478.8,1458.6 L1481.8,1458.6 L1484.8,1458.6 L1487.8,1458.6 L1490.8,1458.6 L1493.8,1458.6 L1496.8,1458.6 L1499.8,1458.5 L1502.8,1458.5 L1505.8,1458.5 L1508.8,1458.5 L1511.8,1458.5 L1514.8,1458.5 L1517.8,1458.5 L1520.8,1458.5 L1523.8,1458.5 L1526.8,1458.5 L1529.8,1458.5 L1532.8,1458.5 L1535.8,1458.5 L1538.8,1458.5 L1541.8,1458.5 L1544.8,1458.5 L1547.8,1458.5 L1550.8,1458.5 L1553.8,1458.5 L1556.8,1458.5 L1559.8,1458.5 L1562.8,1458.5 L1565.8,1458.5 L1568.8,1458.5 L1571.8,1458.5 L1574.8,1458.5 L1577.8,1458.5 L1580.8,1458.5 L1583.8,1458.5 L1586.8,1458.5 L1589.8,1458.5 L1592.8,1458.5 L1595.8,1458.5 L1598.8,1458.5 L1601.8,1458.5 L1604.8,1458.5 L1607.8,1458.5 L1610.8,1458.5 L1613.8,1458.5 L1616.8,1458.5 L1619.8,1458.5 L1622.8,1458.5 L1625.8,1458.5 L1628.8,1458.5 L1631.8,1458.5 L1634.8,1458.5 L1637.8,1458.5 L1638.0,1458.5 L1644.0,1458.5" fill="none" stroke="#e05800" stroke-width="8.6" stroke-linejoin="round" stroke-linecap="butt"/>
<path d="M148.2,390.5 L149.1,384.6 L149.6,381.6 L150.0,378.7 L150.4,375.7 L150.9,372.7 L151.3,369.8 L151.8,366.8 L152.3,363.8 L152.8,360.9 L153.3,357.9 L153.9,355.0 L154.5,352.0 L155.1,349.1 L155.7,346.2 L156.3,343.2 L156.9,340.3 L157.6,337.4 L158.2,334.4 L158.9,331.5 L159.6,328.6 L160.3,325.7 L161.1,322.8 L161.9,319.9 L162.7,317.0 L163.6,314.1 L164.5,311.3 L165.4,308.4 L166.3,305.6 L167.2,302.7 L168.2,299.9 L169.4,297.1 L171.0,294.6 L173.0,292.3 L175.4,290.6 L178.3,289.7 L181.3,289.9 L184.0,291.0 L186.4,292.8 L188.4,295.1 L190.1,297.6 L191.6,300.1 L193.0,302.8 L194.3,305.5 L195.6,308.2 L196.9,310.9 L198.2,313.6 L199.4,316.4 L200.6,319.1 L201.6,321.9 L202.6,324.8 L203.6,327.6 L204.5,330.5 L205.4,333.3 L206.4,336.2 L207.4,339.0 L208.4,341.8 L209.4,344.6 L210.4,347.5 L211.3,350.3 L212.3,353.2 L213.3,356.0 L214.3,358.8 L215.3,361.6 L216.4,364.4 L217.4,367.2 L218.6,370.0 L219.7,372.8 L220.9,375.5 L222.2,378.3 L223.5,380.9 L224.9,383.6 L226.2,386.3 L227.3,389.1 L228.4,391.9 L229.5,394.7 L230.6,397.5 L231.7,400.3 L232.9,403.0 L234.0,405.8 L235.3,408.5 L236.7,411.2 L238.2,413.8 L239.9,416.3 L241.6,418.7 L243.5,421.0 L245.4,423.4 L247.4,425.6 L249.4,427.8 L251.5,429.9 L253.8,431.9 L256.1,433.8 L258.5,435.6 L260.9,437.4 L263.3,439.3 L265.6,441.2 L267.9,443.1 L270.1,445.1 L272.2,447.2 L274.2,449.5 L276.2,451.8 L278.1,454.1 L280.0,456.4 L281.8,458.8 L283.6,461.2 L285.3,463.7 L286.9,466.2 L288.4,468.8 L289.8,471.4 L291.2,474.1 L292.6,476.8 L293.9,479.5 L295.2,482.2 L296.4,484.9 L297.5,487.7 L298.6,490.5 L299.5,493.4 L300.4,496.2 L301.2,499.1 L302.1,502.0 L302.9,504.9 L303.7,507.8 L304.5,510.6 L305.3,513.5 L306.1,516.4 L306.9,519.3 L307.7,522.2 L308.5,525.1 L309.3,528.0 L310.0,530.9 L310.8,533.8 L311.6,536.7 L312.4,539.6 L313.2,542.5 L314.1,545.4 L314.9,548.2 L315.8,551.1 L316.7,554.0 L317.5,556.8 L318.4,559.7 L319.3,562.6 L320.2,565.4 L321.1,568.3 L322.0,571.2 L322.9,574.0 L323.8,576.9 L324.7,579.8 L325.5,582.6 L326.4,585.5 L327.3,588.3 L328.2,591.2 L329.1,594.1 L330.0,596.9 L330.9,599.8 L331.8,602.7 L332.7,605.5 L333.6,608.4 L334.4,611.3 L335.3,614.1 L336.1,617.0 L337.0,619.9 L337.8,622.8 L338.7,625.7 L339.5,628.6 L340.3,631.4 L341.1,634.3 L341.9,637.2 L342.7,640.1 L343.5,643.0 L344.4,645.9 L345.2,648.8 L346.0,651.6 L346.8,654.5 L347.7,657.4 L348.5,660.3 L349.3,663.2 L350.2,666.1 L351.0,668.9 L351.8,671.8 L352.7,674.7 L353.6,677.6 L354.4,680.4 L355.3,683.3 L356.2,686.2 L357.2,689.0 L358.1,691.9 L359.0,694.7 L360.0,697.6 L360.9,700.4 L361.9,703.2 L362.9,706.1 L363.9,708.9 L364.9,711.7 L365.9,714.6 L366.9,717.4 L367.9,720.2 L368.9,723.0 L370.0,725.8 L371.1,728.6 L372.1,731.4 L373.3,734.2 L374.4,737.0 L375.5,739.8 L376.7,742.5 L377.9,745.3 L379.1,748.0 L380.4,750.7 L381.7,753.4 L383.1,756.1 L384.5,758.8 L385.9,761.4 L387.3,764.1 L388.8,766.6 L390.4,769.2 L392.0,771.7 L393.7,774.2 L395.5,776.7 L397.2,779.1 L399.0,781.5 L400.8,783.9 L402.6,786.3 L404.5,788.6 L406.4,790.9 L408.3,793.2 L410.3,795.5 L412.2,797.8 L414.2,800.0 L416.2,802.3 L418.2,804.5 L420.2,806.7 L422.2,809.0 L424.2,811.2 L426.1,813.5 L428.0,815.9 L429.9,818.2 L431.7,820.6 L433.6,822.9 L435.4,825.3 L437.2,827.7 L438.9,830.2 L440.7,832.6 L442.4,835.1 L444.0,837.6 L445.6,840.2 L447.1,842.8 L448.5,845.4 L449.9,848.1 L451.2,850.8 L452.5,853.5 L453.7,856.2 L454.9,859.0 L456.1,861.7 L457.3,864.5 L458.4,867.2 L459.6,870.0 L460.7,872.8 L461.9,875.5 L463.0,878.3 L464.2,881.1 L465.3,883.9 L466.4,886.6 L467.6,889.4 L468.7,892.2 L469.8,895.0 L470.9,897.8 L472.0,900.6 L473.1,903.4 L474.2,906.1 L475.3,908.9 L476.4,911.8 L477.4,914.6 L478.5,917.4 L479.5,920.2 L480.6,923.0 L481.6,925.8 L482.7,928.6 L483.7,931.4 L484.8,934.2 L486.0,937.0 L487.1,939.8 L488.3,942.5 L489.5,945.3 L490.7,948.0 L491.9,950.8 L493.1,953.5 L494.2,956.3 L495.4,959.1 L496.5,961.9 L497.5,964.7 L498.5,967.5 L499.4,970.4 L500.3,973.2 L501.1,976.1 L501.9,979.0 L502.7,981.9 L503.4,984.8 L504.2,987.7 L504.9,990.6 L505.7,993.5 L506.4,996.4 L507.2,999.3 L508.0,1002.2 L508.8,1005.1 L509.6,1008.0 L510.4,1010.9 L511.2,1013.8 L512.0,1016.7 L512.9,1019.6 L513.7,1022.4 L514.6,1025.3 L515.4,1028.2 L516.3,1031.1 L517.2,1033.9 L518.0,1036.8 L518.9,1039.7 L519.7,1042.6 L520.5,1045.4 L521.3,1048.3 L522.1,1051.2 L522.9,1054.1 L523.6,1057.0 L524.3,1060.0 L525.0,1062.9 L525.7,1065.8 L526.4,1068.7 L527.0,1071.6 L527.7,1074.6 L528.3,1077.5 L529.0,1080.4 L529.6,1083.4 L530.2,1086.3 L530.9,1089.2 L531.6,1092.2 L532.2,1095.1 L532.9,1098.0 L533.6,1100.9 L534.3,1103.8 L535.1,1106.7 L535.9,1109.6 L536.6,1112.5 L537.4,1115.4 L538.2,1118.3 L539.1,1121.2 L539.9,1124.1 L540.7,1127.0 L541.5,1129.9 L542.3,1132.8 L543.1,1135.6 L543.9,1138.5 L544.6,1141.4 L545.4,1144.3 L546.2,1147.2 L547.0,1150.1 L547.8,1153.0 L548.6,1155.9 L549.5,1158.8 L550.4,1161.6 L551.2,1164.5 L552.1,1167.4 L553.0,1170.2 L553.9,1173.1 L554.8,1176.0 L555.7,1178.8 L556.6,1181.7 L557.5,1184.6 L558.4,1187.4 L559.2,1190.3 L560.0,1193.2 L560.8,1196.1 L561.6,1199.0 L562.3,1201.9 L562.9,1204.8 L563.6,1207.8 L564.3,1210.7 L564.8,1213.6 L565.2,1216.6 L565.6,1219.6 L566.1,1222.6 L566.6,1225.5 L567.3,1228.4 L568.2,1231.3 L569.2,1234.1 L570.2,1236.9 L571.2,1239.8 L572.2,1242.6 L573.3,1245.4 L574.4,1248.2 L575.4,1251.0 L576.5,1253.8 L577.6,1256.6 L578.7,1259.4 L579.7,1262.2 L580.8,1265.0 L581.9,1267.8 L582.9,1270.6 L583.9,1273.4 L584.9,1276.3 L585.9,1279.1 L586.9,1281.9 L587.9,1284.7 L588.9,1287.6 L590.0,1290.4 L591.0,1293.2 L592.0,1296.0 L593.1,1298.8 L594.1,1301.6 L595.3,1304.4 L596.4,1307.2 L597.6,1309.9 L598.9,1312.7 L600.2,1315.4 L601.5,1318.1 L602.9,1320.7 L604.3,1323.4 L605.7,1326.0 L607.2,1328.6 L608.6,1331.3 L610.1,1333.8 L611.6,1336.4 L613.1,1339.1 L614.6,1341.7 L616.0,1344.3 L617.5,1346.9 L618.9,1349.6 L620.4,1352.2 L621.9,1354.8 L623.4,1357.4 L625.0,1359.9 L626.7,1362.4 L628.3,1364.9 L630.1,1367.4 L631.8,1369.8 L633.7,1372.1 L635.6,1374.5 L637.5,1376.8 L639.5,1379.0 L641.5,1381.2 L643.5,1383.4 L645.6,1385.6 L647.7,1387.8 L649.8,1389.9 L652.0,1392.0 L654.2,1394.0 L656.4,1396.0 L658.8,1397.9 L661.1,1399.7 L663.5,1401.5 L665.9,1403.3 L668.4,1405.0 L670.9,1406.6 L673.5,1408.2 L676.1,1409.7 L678.7,1411.1 L681.4,1412.5 L684.1,1413.8 L686.8,1415.1 L689.6,1416.2 L692.4,1417.4 L695.2,1418.4 L698.0,1419.5 L700.8,1420.5 L703.6,1421.6 L706.4,1422.6 L709.2,1423.6 L712.0,1424.7 L714.9,1425.7 L717.7,1426.8 L720.5,1427.8 L723.3,1428.9 L726.1,1429.9 L728.9,1430.9 L731.8,1431.8 L734.7,1432.7 L737.5,1433.6 L740.4,1434.4 L743.3,1435.1 L746.2,1435.9 L749.1,1436.6 L752.1,1437.2 L755.0,1437.9 L757.9,1438.5 L760.9,1439.1 L763.8,1439.7 L766.7,1440.3 L769.7,1440.9 L772.6,1441.5 L775.6,1442.0 L778.5,1442.6 L781.5,1443.1 L784.4,1443.6 L787.4,1444.1 L790.4,1444.6 L793.3,1445.1 L796.3,1445.6 L799.2,1446.1 L802.2,1446.6 L805.2,1447.0 L808.1,1447.5 L811.1,1448.0 L814.1,1448.4 L817.0,1448.9 L820.0,1449.3 L823.0,1449.7 L825.9,1450.1 L828.9,1450.5 L831.9,1450.9 L834.9,1451.3 L837.8,1451.6 L840.8,1452.0 L843.8,1452.3 L846.8,1452.6 L849.8,1452.9 L852.8,1453.2 L855.7,1453.4 L858.7,1453.7 L861.7,1453.9 L864.7,1454.2 L867.7,1454.4 L870.7,1454.7 L873.7,1454.9 L876.7,1455.1 L879.7,1455.3 L882.7,1455.5 L885.7,1455.7 L888.7,1455.9 L891.7,1456.0 L894.6,1456.2 L897.6,1456.3 L900.6,1456.4 L903.6,1456.6 L906.6,1456.7 L909.6,1456.8 L912.6,1456.9 L915.6,1457.0 L918.6,1457.1 L921.6,1457.1 L924.6,1457.2 L927.6,1457.3 L930.6,1457.4 L933.6,1457.4 L936.6,1457.5 L939.6,1457.6 L942.6,1457.6 L945.6,1457.7 L948.6,1457.7 L951.6,1457.8 L954.6,1457.8 L957.6,1457.9 L960.6,1457.9 L963.6,1458.0 L966.6,1458.0 L969.6,1458.1 L972.6,1458.1 L975.6,1458.2 L978.6,1458.2 L981.6,1458.3 L984.6,1458.3 L987.6,1458.3 L990.6,1458.4 L993.6,1458.4 L996.6,1458.5 L999.6,1458.5 L1002.6,1458.5 L1005.6,1458.6 L1008.6,1458.6 L1011.6,1458.6 L1014.6,1458.7 L1017.6,1458.7 L1020.6,1458.7 L1023.6,1458.7 L1026.6,1458.8 L1029.6,1458.8 L1032.6,1458.8 L1035.6,1458.8 L1038.6,1458.9 L1041.6,1458.9 L1044.6,1458.9 L1047.6,1458.9 L1050.6,1458.9 L1053.6,1458.9 L1056.6,1458.9 L1059.6,1458.9 L1062.6,1459.0 L1065.6,1459.0 L1068.6,1459.0 L1071.6,1459.0 L1074.6,1459.0 L1077.6,1459.0 L1080.6,1459.0 L1083.6,1459.0 L1086.6,1459.0 L1089.6,1459.0 L1092.6,1459.0 L1095.6,1459.0 L1098.6,1459.0 L1101.6,1459.0 L1104.6,1459.0 L1107.6,1459.0 L1110.6,1459.0 L1113.6,1459.0 L1116.6,1459.0 L1119.6,1459.0 L1122.6,1459.0 L1125.6,1459.0 L1128.6,1459.0 L1131.6,1459.0 L1134.6,1459.0 L1137.6,1459.0 L1140.6,1459.0 L1143.6,1459.0 L1146.6,1459.0 L1149.6,1459.0 L1152.6,1459.0 L1155.6,1459.0 L1158.6,1459.0 L1161.6,1459.0 L1164.6,1459.0 L1167.6,1458.9 L1170.6,1458.9 L1173.6,1458.9 L1176.6,1458.9 L1179.6,1458.9 L1182.6,1458.9 L1185.6,1458.9 L1188.6,1458.9 L1191.6,1458.9 L1194.6,1458.9 L1197.6,1458.9 L1200.6,1458.9 L1203.6,1458.9 L1206.6,1458.9 L1209.6,1458.9 L1212.6,1458.9 L1215.6,1458.9 L1218.6,1458.9 L1221.6,1458.8 L1224.6,1458.8 L1227.6,1458.8 L1230.6,1458.8 L1233.6,1458.8 L1236.6,1458.8 L1239.6,1458.8 L1242.6,1458.8 L1245.6,1458.8 L1248.6,1458.8 L1251.6,1458.8 L1254.6,1458.8 L1257.6,1458.8 L1260.6,1458.7 L1263.6,1458.7 L1266.6,1458.7 L1269.6,1458.7 L1272.6,1458.7 L1275.6,1458.7 L1278.6,1458.7 L1281.6,1458.7 L1284.6,1458.7 L1287.6,1458.6 L1290.6,1458.6 L1293.6,1458.6 L1296.6,1458.6 L1299.6,1458.6 L1302.6,1458.6 L1305.6,1458.6 L1308.6,1458.6 L1311.6,1458.5 L1314.6,1458.5 L1317.6,1458.5 L1320.6,1458.5 L1323.6,1458.5 L1326.6,1458.5 L1329.6,1458.5 L1332.6,1458.4 L1335.6,1458.4 L1338.6,1458.4 L1341.6,1458.4 L1344.6,1458.4 L1347.6,1458.4 L1350.6,1458.3 L1353.6,1458.3 L1356.6,1458.3 L1359.6,1458.3 L1362.6,1458.3 L1365.6,1458.2 L1368.6,1458.2 L1371.6,1458.2 L1374.6,1458.2 L1377.6,1458.1 L1380.6,1458.1 L1383.6,1458.1 L1386.6,1458.1 L1389.6,1458.0 L1392.6,1458.0 L1395.6,1458.0 L1398.6,1458.0 L1401.6,1457.9 L1404.6,1457.9 L1407.6,1457.9 L1410.6,1457.9 L1413.6,1457.8 L1416.6,1457.8 L1419.6,1457.8 L1422.6,1457.8 L1425.6,1457.7 L1428.6,1457.7 L1431.6,1457.7 L1434.6,1457.6 L1437.6,1457.6 L1440.6,1457.6 L1443.6,1457.6 L1446.6,1457.5 L1449.6,1457.5 L1452.6,1457.5 L1455.6,1457.4 L1458.6,1457.4 L1461.6,1457.4 L1464.6,1457.4 L1467.6,1457.3 L1470.6,1457.3 L1473.6,1457.3 L1476.6,1457.2 L1479.6,1457.2 L1482.6,1457.2 L1485.6,1457.1 L1488.6,1457.1 L1491.6,1457.1 L1494.6,1457.0 L1497.6,1457.0 L1500.6,1457.0 L1503.6,1456.9 L1506.6,1456.9 L1509.6,1456.9 L1512.6,1456.8 L1515.6,1456.8 L1518.6,1456.8 L1521.6,1456.7 L1524.6,1456.7 L1527.6,1456.7 L1530.6,1456.6 L1533.6,1456.6 L1536.6,1456.6 L1539.6,1456.5 L1542.6,1456.5 L1545.6,1456.5 L1548.6,1456.4 L1551.6,1456.4 L1554.6,1456.4 L1557.6,1456.3 L1560.6,1456.3 L1563.6,1456.3 L1566.6,1456.2 L1569.6,1456.2 L1572.6,1456.2 L1575.6,1456.1 L1578.6,1456.1 L1581.6,1456.0 L1584.6,1456.0 L1587.6,1456.0 L1590.6,1455.9 L1593.6,1455.9 L1596.6,1455.9 L1599.6,1455.8 L1602.6,1455.8 L1605.6,1455.8 L1608.6,1455.7 L1611.6,1455.7 L1614.6,1455.7 L1617.6,1455.6 L1620.6,1455.6 L1623.6,1455.6 L1626.6,1455.5 L1629.6,1455.5 L1632.6,1455.5 L1635.6,1455.4 L1638.0,1455.4 L1644.0,1455.3" fill="none" stroke="#ff6600" stroke-width="8.6" stroke-linejoin="round" stroke-linecap="butt"/>
<path d="M141.9,1462.0 L1644.0,1461.8" fill="none" stroke="#ff1ccf" stroke-width="6.2" stroke-linejoin="round" stroke-linecap="butt"/>
</g>
<line x1="183.0" y1="29.3" x2="183.0" y2="1426.0" stroke="#333" stroke-width="4.2" stroke-dasharray="22.8 7.2"/>
<line x1="281.4" y1="26.8" x2="281.4" y2="1423.5" stroke="#333" stroke-width="4.2" stroke-dasharray="22.8 7.2"/>
<line x1="447.4" y1="26.3" x2="447.4" y2="1423.3" stroke="#333" stroke-width="4.2" stroke-dasharray="22.8 7.2"/>
<line x1="613.2" y1="26.3" x2="613.2" y2="1423.3" stroke="#333" stroke-width="4.2" stroke-dasharray="22.8 7.2"/>
<path d="M148,1560V1540H1633V1560" fill="none" stroke="#000" stroke-width="5.8" stroke-linejoin="round"/>
<line x1="445" y1="1540" x2="445" y2="1560" stroke="#000" stroke-width="5.8"/>
<line x1="742" y1="1540" x2="742" y2="1560" stroke="#000" stroke-width="5.8"/>
<line x1="1039" y1="1540" x2="1039" y2="1560" stroke="#000" stroke-width="5.8"/>
<line x1="1336" y1="1540" x2="1336" y2="1560" stroke="#000" stroke-width="5.8"/>
<text transform="translate(148,1639) scale(1.031,1)" text-anchor="middle" class="tk">200</text>
<text transform="translate(445,1639) scale(1.031,1)" text-anchor="middle" class="tk">300</text>
<text transform="translate(742,1639) scale(1.031,1)" text-anchor="middle" class="tk">400</text>
<text transform="translate(1039,1639) scale(1.031,1)" text-anchor="middle" class="tk">500</text>
<text transform="translate(1336,1639) scale(1.031,1)" text-anchor="middle" class="tk">600</text>
<text transform="translate(1634,1639) scale(1.031,1)" text-anchor="middle" class="tk">700</text>
<text x="911.5" y="1766" text-anchor="middle" class="ax">Wavelength (nm)</text>
<text transform="translate(77,677.6) rotate(-90)" x="0" y="0" text-anchor="middle" class="ax">Kubelka-Munk (a.u.)</text>
</svg>
</body></html>
